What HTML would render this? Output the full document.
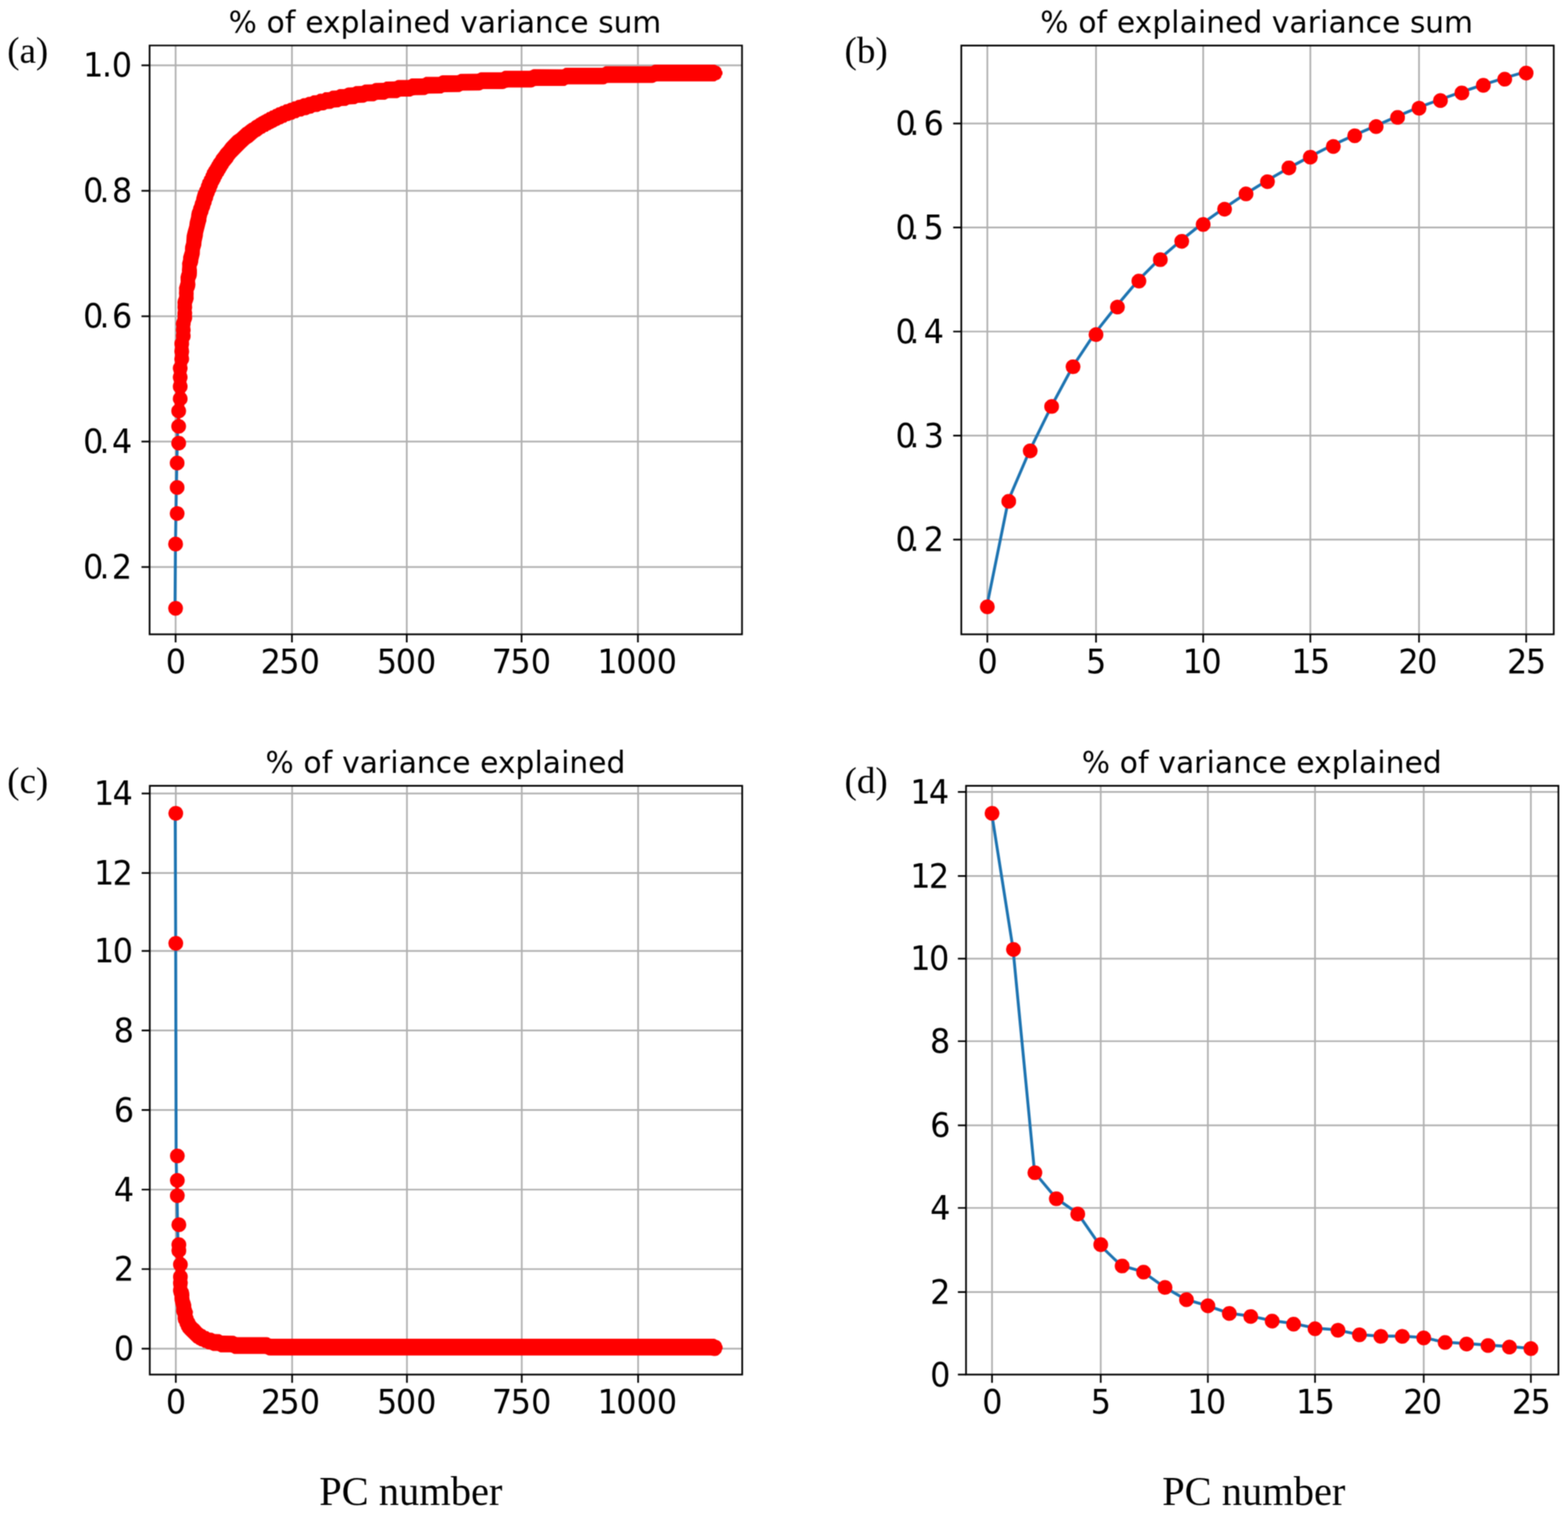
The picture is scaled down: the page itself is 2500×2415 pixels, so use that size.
<!DOCTYPE html>
<html lang="en">
<head>
<meta charset="utf-8">
<title>PCA explained variance</title>
<style>
html,body{margin:0;padding:0;background:#fff;}
body{width:2500px;height:2415px;overflow:hidden;}
svg{display:block;}
</style>
</head>
<body>
<svg xmlns="http://www.w3.org/2000/svg" width="2500" height="2415" viewBox="0 0 2500 2415">
<defs><filter id="soft2" filterUnits="userSpaceOnUse" x="0" y="0" width="2500" height="2415" color-interpolation-filters="sRGB"><feGaussianBlur stdDeviation="0"/></filter><filter id="soft3" filterUnits="userSpaceOnUse" x="0" y="0" width="2500" height="2415" color-interpolation-filters="sRGB"><feGaussianBlur stdDeviation="0"/></filter></defs>
<defs><filter id="soft" filterUnits="userSpaceOnUse" x="0" y="0" width="2500" height="2415" color-interpolation-filters="sRGB"><feConvolveMatrix order="5" kernelMatrix="0.00048 0.00501 0.01095 0.00501 0.00048 0.00501 0.05222 0.11405 0.05222 0.00501 0.01095 0.11405 0.24912 0.11405 0.01095 0.00501 0.05222 0.11405 0.05222 0.00501 0.00048 0.00501 0.01095 0.00501 0.00048" edgeMode="duplicate" preserveAlpha="true"/></filter></defs>
<g filter="url(#soft)">
<rect width="2500" height="2415" fill="#fff"/>
<g id="panel-a">
<g transform="matrix(2.4407 0 0 2.438 83.52 -75)">
<path d="M80.5 60.5V445.5M156.5 60.5V445.5M231.5 60.5V445.5M306.5 60.5V445.5M382.5 60.5V445.5M63.5 73.5H450.5M63.5 155.5H450.5M63.5 237.5H450.5M63.5 319.5H450.5M63.5 401.5H450.5" stroke="#b0b0b0" stroke-width="1.111" fill="none"/>
<polyline points="80.11,427.5 80.42,385.66 80.72,365.84 81.02,348.57 81.32,332.76 81.62,320.03 81.92,309.35 82.22,299.28 82.53,290.72 82.83,283.39 83.13,276.68 83.43,270.7 83.73,265.01 84.03,259.77 84.34,254.82 84.64,250.31 84.94,245.97 85.24,242.1 85.54,238.38 85.84,234.66 86.15,231.08 86.45,227.96 86.75,224.97 87.05,222.14 87.35,219.44 87.65,216.94 87.96,214.52 88.26,212.18 88.56,209.9 88.86,207.69 89.16,205.55 89.46,203.46 89.76,201.42 90.07,199.44 90.37,197.51 90.67,195.62 90.97,193.78 91.27,191.98 91.57,190.22 91.88,188.5 92.18,186.81 92.48,185.18 92.78,183.61 93.08,182.09 93.38,180.62 93.69,179.19 93.99,177.81 94.29,176.47 94.59,175.17 94.89,173.91 95.19,172.68 95.5,171.49 95.8,170.32 96.1,169.2 96.4,168.1 96.7,167.02 97,165.98 97.31,164.96 97.61,163.97 97.91,163 98.21,162.05 98.51,161.13 98.81,160.23 99.11,159.34 99.42,158.48 99.72,157.63 100.02,156.81 100.32,156 100.62,155.21 100.92,154.43 101.23,153.67 101.53,152.93 101.83,152.2 102.13,151.48 102.43,150.78 102.73,150.1 103.04,149.42 103.34,148.76 103.64,148.11 103.94,147.48 104.24,146.85 104.54,146.24 104.85,145.63 105.15,145.04 105.45,144.46 105.75,143.89 106.05,143.33 106.35,142.77 106.65,142.23 106.96,141.69 107.26,141.17 107.56,140.65 107.86,140.14 108.16,139.64 108.46,139.14 108.77,138.66 109.07,138.18 109.37,137.71 109.67,137.24 109.97,136.79 110.27,136.33 110.58,135.89 110.88,135.45 111.18,135.02 111.48,134.59 111.78,134.17 112.08,133.76 112.39,133.35 112.69,132.95 112.99,132.55 113.29,132.16 113.59,131.77 113.89,131.39 114.19,131.01 114.5,130.64 114.8,130.27 115.1,129.91 115.4,129.55 115.7,129.19 116,128.84 116.31,128.5 116.61,128.16 116.91,127.82 117.21,127.49 117.51,127.16 117.81,126.83 118.12,126.51 118.42,126.19 118.72,125.88 119.02,125.56 119.32,125.26 119.62,124.95 119.93,124.65 120.23,124.35 120.53,124.06 120.83,123.77 121.13,123.48 121.43,123.2 121.73,122.91 122.04,122.64 122.34,122.36 122.64,122.09 122.94,121.82 123.24,121.55 123.54,121.28 123.85,121.02 124.15,120.76 124.45,120.5 124.75,120.25 125.05,120 125.35,119.75 125.66,119.5 125.96,119.26 126.26,119.01 126.56,118.77 126.86,118.54 127.16,118.3 127.47,118.07 127.77,117.84 128.07,117.61 128.37,117.38 128.67,117.15 128.97,116.93 129.27,116.71 129.58,116.49 129.88,116.27 130.18,116.06 130.48,115.84 130.78,115.63 131.08,115.42 131.39,115.22 131.69,115.01 131.99,114.8 132.29,114.6 132.59,114.4 132.89,114.2 133.2,114 133.5,113.81 133.8,113.61 134.1,113.42 134.4,113.23 134.7,113.04 135.01,112.85 135.31,112.67 135.61,112.48 135.91,112.3 136.21,112.11 136.51,111.93 136.82,111.75 137.12,111.58 137.42,111.4 137.72,111.22 138.02,111.05 138.32,110.88 138.62,110.7 138.93,110.53 139.23,110.37 139.53,110.2 139.83,110.03 140.13,109.87 140.43,109.7 140.74,109.54 141.04,109.38 141.34,109.22 141.64,109.06 141.94,108.9 142.24,108.75 142.55,108.59 142.85,108.44 143.15,108.29 143.45,108.14 143.75,107.99 144.05,107.84 144.36,107.69 144.66,107.55 144.96,107.4 145.26,107.26 145.56,107.11 145.86,106.97 146.16,106.83 146.47,106.69 146.77,106.56 147.07,106.42 147.37,106.28 147.67,106.15 147.97,106.02 148.28,105.88 148.58,105.75 148.88,105.62 149.18,105.49 149.48,105.36 149.78,105.23 150.09,105.11 150.39,104.98 150.69,104.86 150.99,104.73 151.29,104.61 151.59,104.49 151.9,104.37 152.2,104.24 152.5,104.13 152.8,104.01 153.1,103.89 153.4,103.77 153.7,103.66 154.01,103.54 154.31,103.43 154.61,103.31 154.91,103.2 155.21,103.09 155.51,102.97 155.82,102.86 156.12,102.75 156.42,102.65 156.72,102.54 157.02,102.43 157.32,102.32 157.63,102.22 157.93,102.11 158.23,102.01 158.53,101.9 158.83,101.8 159.13,101.7 159.44,101.59 159.74,101.49 160.04,101.39 160.34,101.29 160.64,101.19 160.94,101.09 161.24,100.99 161.55,100.9 161.85,100.8 162.15,100.7 162.45,100.61 162.75,100.51 163.05,100.42 163.36,100.32 163.66,100.23 163.96,100.14 164.26,100.05 164.56,99.96 164.86,99.86 165.17,99.77 165.47,99.68 165.77,99.59 166.07,99.51 166.37,99.42 166.67,99.33 166.98,99.24 167.28,99.16 167.58,99.07 167.88,98.98 168.18,98.9 168.48,98.81 168.79,98.73 169.09,98.65 169.39,98.56 169.69,98.48 169.99,98.4 170.29,98.32 170.59,98.24 170.9,98.15 171.2,98.07 171.5,97.99 171.8,97.92 172.1,97.84 172.4,97.76 172.71,97.68 173.01,97.6 173.31,97.52 173.61,97.45 173.91,97.37 174.21,97.3 174.52,97.22 174.82,97.15 175.12,97.07 175.42,97 175.72,96.92 176.02,96.85 176.33,96.78 176.63,96.7 176.93,96.63 177.23,96.56 177.53,96.49 177.83,96.42 178.13,96.35 178.44,96.28 178.74,96.21 179.04,96.14 179.34,96.07 179.64,96 179.94,95.93 180.25,95.86 180.55,95.79 180.85,95.73 181.15,95.66 181.45,95.59 181.75,95.53 182.06,95.46 182.36,95.39 182.66,95.33 182.96,95.26 183.26,95.2 183.56,95.13 183.87,95.07 184.17,95.01 184.47,94.94 184.77,94.88 185.07,94.82 185.37,94.75 185.67,94.69 185.98,94.63 186.28,94.57 186.58,94.51 186.88,94.45 187.18,94.39 187.48,94.32 187.79,94.26 188.09,94.2 188.39,94.15 188.69,94.09 188.99,94.03 189.29,93.97 189.6,93.91 189.9,93.85 190.2,93.79 190.5,93.74 190.8,93.68 191.1,93.62 191.41,93.56 191.71,93.51 192.01,93.45 192.31,93.39 192.61,93.34 192.91,93.28 193.21,93.23 193.52,93.17 193.82,93.12 194.12,93.06 194.42,93.01 194.72,92.95 195.02,92.9 195.33,92.85 195.63,92.79 195.93,92.74 196.23,92.69 196.53,92.63 196.83,92.58 197.14,92.53 197.44,92.48 197.74,92.43 198.04,92.37 198.34,92.32 198.64,92.27 198.95,92.22 199.25,92.17 199.55,92.12 199.85,92.07 200.15,92.02 200.45,91.97 200.75,91.92 201.06,91.87 201.36,91.82 201.66,91.77 201.96,91.72 202.26,91.67 202.56,91.62 202.87,91.58 203.17,91.53 203.47,91.48 203.77,91.43 204.07,91.38 204.37,91.34 204.68,91.29 204.98,91.24 205.28,91.2 205.58,91.15 205.88,91.1 206.18,91.06 206.49,91.01 206.79,90.97 207.09,90.92 207.39,90.87 207.69,90.83 207.99,90.78 208.3,90.74 208.6,90.69 208.9,90.65 209.2,90.6 209.5,90.56 209.8,90.52 210.1,90.47 210.41,90.43 210.71,90.39 211.01,90.34 211.31,90.3 211.61,90.26 211.91,90.21 212.22,90.17 212.52,90.13 212.82,90.09 213.12,90.04 213.42,90 213.72,89.96 214.03,89.92 214.33,89.88 214.63,89.83 214.93,89.79 215.23,89.75 215.53,89.71 215.84,89.67 216.14,89.63 216.44,89.59 216.74,89.55 217.04,89.51 217.34,89.47 217.64,89.43 217.95,89.39 218.25,89.35 218.55,89.31 218.85,89.27 219.15,89.23 219.45,89.19 219.76,89.15 220.06,89.11 220.36,89.07 220.66,89.04 220.96,89 221.26,88.96 221.57,88.92 221.87,88.88 222.17,88.85 222.47,88.81 222.77,88.77 223.07,88.73 223.38,88.7 223.68,88.66 223.98,88.62 224.28,88.58 224.58,88.55 224.88,88.51 225.18,88.47 225.49,88.44 225.79,88.4 226.09,88.37 226.39,88.33 226.69,88.29 226.99,88.26 227.3,88.22 227.6,88.19 227.9,88.15 228.2,88.12 228.5,88.08 228.8,88.05 229.11,88.01 229.41,87.98 229.71,87.94 230.01,87.91 230.31,87.87 230.61,87.84 230.92,87.8 231.22,87.77 231.52,87.74 231.82,87.7 232.12,87.67 232.42,87.63 232.72,87.6 233.03,87.57 233.33,87.53 233.63,87.5 233.93,87.47 234.23,87.43 234.53,87.4 234.84,87.37 235.14,87.34 235.44,87.3 235.74,87.27 236.04,87.24 236.34,87.21 236.65,87.17 236.95,87.14 237.25,87.11 237.55,87.08 237.85,87.05 238.15,87.02 238.46,86.98 238.76,86.95 239.06,86.92 239.36,86.89 239.66,86.86 239.96,86.83 240.27,86.8 240.57,86.77 240.87,86.74 241.17,86.7 241.47,86.67 241.77,86.64 242.07,86.61 242.38,86.58 242.68,86.55 242.98,86.52 243.28,86.49 243.58,86.46 243.88,86.43 244.19,86.4 244.49,86.37 244.79,86.34 245.09,86.31 245.39,86.29 245.69,86.26 246,86.23 246.3,86.2 246.6,86.17 246.9,86.14 247.2,86.11 247.5,86.08 247.81,86.05 248.11,86.02 248.41,86 248.71,85.97 249.01,85.94 249.31,85.91 249.61,85.88 249.92,85.86 250.22,85.83 250.52,85.8 250.82,85.77 251.12,85.74 251.42,85.72 251.73,85.69 252.03,85.66 252.33,85.63 252.63,85.61 252.93,85.58 253.23,85.55 253.54,85.52 253.84,85.5 254.14,85.47 254.44,85.44 254.74,85.42 255.04,85.39 255.35,85.36 255.65,85.34 255.95,85.31 256.25,85.28 256.55,85.26 256.85,85.23 257.15,85.21 257.46,85.18 257.76,85.15 258.06,85.13 258.36,85.1 258.66,85.08 258.96,85.05 259.27,85.02 259.57,85 259.87,84.97 260.17,84.95 260.47,84.92 260.77,84.9 261.08,84.87 261.38,84.85 261.68,84.82 261.98,84.8 262.28,84.77 262.58,84.75 262.89,84.72 263.19,84.7 263.49,84.67 263.79,84.65 264.09,84.62 264.39,84.6 264.69,84.58 265,84.55 265.3,84.53 265.6,84.5 265.9,84.48 266.2,84.46 266.5,84.43 266.81,84.41 267.11,84.38 267.41,84.36 267.71,84.34 268.01,84.31 268.31,84.29 268.62,84.27 268.92,84.24 269.22,84.22 269.52,84.2 269.82,84.18 270.12,84.15 270.43,84.13 270.73,84.11 271.03,84.08 271.33,84.06 271.63,84.04 271.93,84.02 272.23,83.99 272.54,83.97 272.84,83.95 273.14,83.93 273.44,83.91 273.74,83.88 274.04,83.86 274.35,83.84 274.65,83.82 274.95,83.8 275.25,83.77 275.55,83.75 275.85,83.73 276.16,83.71 276.46,83.69 276.76,83.67 277.06,83.65 277.36,83.62 277.66,83.6 277.97,83.58 278.27,83.56 278.57,83.54 278.87,83.52 279.17,83.5 279.47,83.48 279.78,83.46 280.08,83.44 280.38,83.41 280.68,83.39 280.98,83.37 281.28,83.35 281.58,83.33 281.89,83.31 282.19,83.29 282.49,83.27 282.79,83.25 283.09,83.23 283.39,83.21 283.7,83.19 284,83.17 284.3,83.15 284.6,83.13 284.9,83.11 285.2,83.09 285.51,83.07 285.81,83.05 286.11,83.03 286.41,83.02 286.71,83 287.01,82.98 287.32,82.96 287.62,82.94 287.92,82.92 288.22,82.9 288.52,82.88 288.82,82.86 289.12,82.84 289.43,82.82 289.73,82.8 290.03,82.79 290.33,82.77 290.63,82.75 290.93,82.73 291.24,82.71 291.54,82.69 291.84,82.67 292.14,82.66 292.44,82.64 292.74,82.62 293.05,82.6 293.35,82.58 293.65,82.57 293.95,82.55 294.25,82.53 294.55,82.51 294.86,82.49 295.16,82.48 295.46,82.46 295.76,82.44 296.06,82.42 296.36,82.4 296.66,82.39 296.97,82.37 297.27,82.35 297.57,82.33 297.87,82.32 298.17,82.3 298.47,82.28 298.78,82.26 299.08,82.25 299.38,82.23 299.68,82.21 299.98,82.2 300.28,82.18 300.59,82.16 300.89,82.14 301.19,82.13 301.49,82.11 301.79,82.09 302.09,82.08 302.4,82.06 302.7,82.04 303,82.03 303.3,82.01 303.6,81.99 303.9,81.98 304.2,81.96 304.51,81.94 304.81,81.93 305.11,81.91 305.41,81.89 305.71,81.88 306.01,81.86 306.32,81.85 306.62,81.83 306.92,81.81 307.22,81.8 307.52,81.78 307.82,81.77 308.13,81.75 308.43,81.73 308.73,81.72 309.03,81.7 309.33,81.69 309.63,81.67 309.94,81.66 310.24,81.64 310.54,81.62 310.84,81.61 311.14,81.59 311.44,81.58 311.75,81.56 312.05,81.55 312.35,81.53 312.65,81.52 312.95,81.5 313.25,81.49 313.55,81.47 313.86,81.46 314.16,81.44 314.46,81.43 314.76,81.41 315.06,81.4 315.36,81.38 315.67,81.37 315.97,81.35 316.27,81.34 316.57,81.32 316.87,81.31 317.17,81.29 317.48,81.28 317.78,81.26 318.08,81.25 318.38,81.23 318.68,81.22 318.98,81.2 319.29,81.19 319.59,81.17 319.89,81.16 320.19,81.15 320.49,81.13 320.79,81.12 321.09,81.1 321.4,81.09 321.7,81.07 322,81.06 322.3,81.05 322.6,81.03 322.9,81.02 323.21,81 323.51,80.99 323.81,80.98 324.11,80.96 324.41,80.95 324.71,80.93 325.02,80.92 325.32,80.91 325.62,80.89 325.92,80.88 326.22,80.87 326.52,80.85 326.83,80.84 327.13,80.82 327.43,80.81 327.73,80.8 328.03,80.78 328.33,80.77 328.63,80.76 328.94,80.74 329.24,80.73 329.54,80.72 329.84,80.7 330.14,80.69 330.44,80.68 330.75,80.66 331.05,80.65 331.35,80.64 331.65,80.62 331.95,80.61 332.25,80.6 332.56,80.59 332.86,80.57 333.16,80.56 333.46,80.55 333.76,80.53 334.06,80.52 334.37,80.51 334.67,80.5 334.97,80.48 335.27,80.47 335.57,80.46 335.87,80.44 336.17,80.43 336.48,80.42 336.78,80.41 337.08,80.39 337.38,80.38 337.68,80.37 337.98,80.36 338.29,80.34 338.59,80.33 338.89,80.32 339.19,80.31 339.49,80.29 339.79,80.28 340.1,80.27 340.4,80.26 340.7,80.25 341,80.23 341.3,80.22 341.6,80.21 341.91,80.2 342.21,80.19 342.51,80.17 342.81,80.16 343.11,80.15 343.41,80.14 343.71,80.13 344.02,80.11 344.32,80.1 344.62,80.09 344.92,80.08 345.22,80.07 345.52,80.05 345.83,80.04 346.13,80.03 346.43,80.02 346.73,80.01 347.03,80 347.33,79.98 347.64,79.97 347.94,79.96 348.24,79.95 348.54,79.94 348.84,79.93 349.14,79.92 349.45,79.9 349.75,79.89 350.05,79.88 350.35,79.87 350.65,79.86 350.95,79.85 351.26,79.84 351.56,79.82 351.86,79.81 352.16,79.8 352.46,79.79 352.76,79.78 353.06,79.77 353.37,79.76 353.67,79.75 353.97,79.74 354.27,79.72 354.57,79.71 354.87,79.7 355.18,79.69 355.48,79.68 355.78,79.67 356.08,79.66 356.38,79.65 356.68,79.64 356.99,79.63 357.29,79.62 357.59,79.6 357.89,79.59 358.19,79.58 358.49,79.57 358.8,79.56 359.1,79.55 359.4,79.54 359.7,79.53 360,79.52 360.3,79.51 360.6,79.5 360.91,79.49 361.21,79.48 361.51,79.47 361.81,79.46 362.11,79.45 362.41,79.43 362.72,79.42 363.02,79.41 363.32,79.4 363.62,79.39 363.92,79.38 364.22,79.37 364.53,79.36 364.83,79.35 365.13,79.34 365.43,79.33 365.73,79.32 366.03,79.31 366.34,79.3 366.64,79.29 366.94,79.28 367.24,79.27 367.54,79.26 367.84,79.25 368.14,79.24 368.45,79.23 368.75,79.22 369.05,79.21 369.35,79.2 369.65,79.19 369.95,79.18 370.26,79.17 370.56,79.16 370.86,79.15 371.16,79.14 371.46,79.13 371.76,79.12 372.07,79.11 372.37,79.1 372.67,79.09 372.97,79.08 373.27,79.07 373.57,79.06 373.88,79.06 374.18,79.05 374.48,79.04 374.78,79.03 375.08,79.02 375.38,79.01 375.68,79 375.99,78.99 376.29,78.98 376.59,78.97 376.89,78.96 377.19,78.95 377.49,78.94 377.8,78.93 378.1,78.92 378.4,78.91 378.7,78.9 379,78.89 379.3,78.89 379.61,78.88 379.91,78.87 380.21,78.86 380.51,78.85 380.81,78.84 381.11,78.83 381.42,78.82 381.72,78.81 382.02,78.8 382.32,78.79 382.62,78.78 382.92,78.78 383.23,78.77 383.53,78.76 383.83,78.75 384.13,78.74 384.43,78.73 384.73,78.72 385.03,78.71 385.34,78.7 385.64,78.69 385.94,78.69 386.24,78.68 386.54,78.67 386.84,78.66 387.15,78.65 387.45,78.64 387.75,78.63 388.05,78.62 388.35,78.62 388.65,78.61 388.96,78.6 389.26,78.59 389.56,78.58 389.86,78.57 390.16,78.56 390.46,78.55 390.77,78.55 391.07,78.54 391.37,78.53 391.67,78.52 391.97,78.51 392.27,78.5 392.57,78.49 392.88,78.49 393.18,78.48 393.48,78.47 393.78,78.46 394.08,78.45 394.38,78.44 394.69,78.44 394.99,78.43 395.29,78.42 395.59,78.41 395.89,78.4 396.19,78.39 396.5,78.39 396.8,78.38 397.1,78.37 397.4,78.36 397.7,78.35 398,78.34 398.31,78.34 398.61,78.33 398.91,78.32 399.21,78.31 399.51,78.3 399.81,78.3 400.11,78.29 400.42,78.28 400.72,78.27 401.02,78.26 401.32,78.26 401.62,78.25 401.92,78.24 402.23,78.23 402.53,78.22 402.83,78.22 403.13,78.21 403.43,78.2 403.73,78.19 404.04,78.18 404.34,78.18 404.64,78.17 404.94,78.16 405.24,78.15 405.54,78.14 405.85,78.14 406.15,78.13 406.45,78.12 406.75,78.11 407.05,78.11 407.35,78.1 407.65,78.09 407.96,78.08 408.26,78.07 408.56,78.07 408.86,78.06 409.16,78.05 409.46,78.04 409.77,78.04 410.07,78.03 410.37,78.02 410.67,78.01 410.97,78.01 411.27,78 411.58,77.99 411.88,77.98 412.18,77.98 412.48,77.97 412.78,77.96 413.08,77.95 413.39,77.95 413.69,77.94 413.99,77.93 414.29,77.92 414.59,77.92 414.89,77.91 415.19,77.9 415.5,77.89 415.8,77.89 416.1,77.88 416.4,77.87 416.7,77.86 417,77.86 417.31,77.85 417.61,77.84 417.91,77.83 418.21,77.83 418.51,77.82 418.81,77.81 419.12,77.81 419.42,77.8 419.72,77.79 420.02,77.78 420.32,77.78 420.62,77.77 420.93,77.76 421.23,77.76 421.53,77.75 421.83,77.74 422.13,77.73 422.43,77.73 422.74,77.72 423.04,77.71 423.34,77.71 423.64,77.7 423.94,77.69 424.24,77.68 424.54,77.68 424.85,77.67 425.15,77.66 425.45,77.66 425.75,77.65 426.05,77.64 426.35,77.64 426.66,77.63 426.96,77.62 427.26,77.62 427.56,77.61 427.86,77.6 428.16,77.59 428.47,77.59 428.77,77.58 429.07,77.57 429.37,77.57 429.67,77.56 429.97,77.55 430.28,77.55 430.58,77.54 430.88,77.53 431.18,77.53 431.48,77.52 431.78,77.51 432.08,77.51 432.39,77.5" stroke="#1c73b1" stroke-width="1.9" fill="none" stroke-linejoin="round"/>
</g>
<path d="M288.5 690.7 286.5 691.1 283.5 691.2 280.5 690.6 278.5 689.5 275.2 686.5 274.1 684.5 273.2 681.5 273.1 678.5 273.7 675.5 275.3 672.5 278.5 669.7 281.5 668.5 282.9 667.5 282 666.5 278.5 665.1 275.5 662.4 273.8 659.5 273.2 656.5 273.2 653.5 273.9 650.5 275.1 648.5 278.1 645.5 278.5 644.5 278.4 643.5 276.1 639.5 275.6 637.5 275.6 634.5 276.2 631.5 277.2 629.5 279.8 626.5 279.8 625.5 277.3 622.5 276.2 620.5 275.6 617.5 275.6 614.5 276.4 611.5 277.3 609.5 277.4 608.5 275.7 603.5 275.5 600.5 276.2 597.5 277.4 594.5 275.6 588.5 275.6 585.5 276.3 582.5 278.5 578.9 278.9 577.5 278 573.5 278 571.5 278.9 567.5 279 565.5 278.1 561.5 278 559.5 279 553.5 278.1 549.5 278.1 546.5 278.7 543.5 280.5 540.5 280.8 539.5 280.4 534.5 281.2 530.5 280.5 527.5 280.4 525.5 281.2 520.5 280.4 517.5 280.4 515.5 281.3 511.5 282.7 508.5 283.1 505.5 282.9 498.5 283.6 494.5 282.9 490.5 283.2 485.5 282.9 481.5 283.7 477.5 285.3 473.5 285.7 471.5 285.3 467.5 285.6 463.5 285.4 458.5 288 449.5 287.8 441.5 289 436.5 290.1 433.5 290 430.5 290.5 424.5 290.3 419.5 291.9 413.5 292 409.5 292.5 407.5 295 399.5 294.9 396.5 295.2 392.5 296.9 386.5 297.6 375.5 299.5 367.5 301.8 359.5 302.5 353.5 304.6 345.5 305 341.5 306 336.5 307.8 332.5 308.3 329.5 310.2 325.5 311 321.5 312.5 318.5 313.2 314.5 315.8 305.5 316.2 304.5 317.2 303.5 318.4 299.5 319.3 298.5 320.3 296.5 320.5 294.5 321.2 292.5 322 291.5 322.9 287.5 325.2 284.5 325.4 282.5 327.7 279.5 327.9 277.5 329.7 274.5 330 272.5 330.5 271.6 332.1 269.5 332.9 267.5 335.2 264.5 335.5 263.5 336.9 261.5 338.3 258.5 339.3 257.5 340.1 255.5 343.9 250.5 344.6 248.5 349.4 242.5 352.1 238.5 356.8 233.5 360.4 228.5 372 216.5 377.5 212.8 387.5 203.5 389.5 202.5 394.5 198.4 396.5 197.3 397.5 196.3 399.5 195.7 402.5 192.9 405.5 191.2 406.5 190.9 409.5 188.4 411.5 187.8 412.5 186.8 416.5 184.8 417.5 184 418.9 183.5 422.5 181.2 423.5 181.2 426.5 178.8 428.8 178.5 431.5 176.3 433.5 176.2 436.5 173.9 438.9 173.5 441.5 171.5 444.5 170.9 448.5 168.8 450.5 168.8 453.5 166.6 457.5 166.1 460.5 164.2 464.5 163.5 466.5 162.1 468.5 161.5 470.5 161.4 473.5 159.5 478.5 158.8 481.5 157.1 483.5 156.6 486.5 156.4 490.5 154.4 494.5 154.2 498.5 152 504.5 151.7 506.5 150.7 507.5 149.8 510.5 149.3 513.5 149.4 514.5 149.1 517.5 147.1 523.5 146.9 525.5 146.4 527.5 145.1 529.5 144.6 536.5 144.3 539.5 142.4 541.5 142.1 548.5 141.9 550.5 141.2 551.5 140.5 554.5 139.6 562.5 139.3 566.5 137.3 576.5 137 580.5 135 581.5 134.8 592.5 134.6 594.5 133.9 595.5 133.1 598.5 132.3 610.5 132.1 611.5 131.9 614.5 130.2 615.5 130 628.5 129.8 630.5 129.3 632.5 128 634.5 127.5 650.5 127.4 652.5 126.9 654.5 125.6 656.5 125 672.5 125 674.5 124.7 678.5 122.6 699.5 122.5 701.5 121.6 702.5 120.7 705.5 120.1 728.5 120.1 730.5 119.6 732.5 118.3 734.5 117.7 760.5 117.6 762.5 117.1 764.5 115.8 766.5 115.3 799.5 115.2 803.5 113.1 805.5 112.8 843.5 112.8 845.5 112.5 849.5 110.4 851.5 110.3 896.5 110.4 898.5 109.8 900.5 108.3 903.5 107.9 960.5 107.9 962.5 107.1 964.5 105.7 966.5 105.4 1038.5 105.5 1042.5 103.2 1044.5 103 1138.5 103 1140.5 103.3 1143.5 105.1 1146.5 106.1 1149.8 109.5 1150.1 111.5 1151.9 114.5 1152 117.5 1151.8 118.5 1150 121.5 1149.6 123.5 1146.5 126.6 1142.5 128.1 1140.5 129.4 1138.5 129.8 1047.5 129.7 1045.5 130.2 1043.5 131.6 1040.5 132.2 969.5 132.2 967.5 132.6 965.5 134 962.5 134.6 905.5 134.6 903.5 135.3 901.5 136.7 899.5 137.1 854.5 137 852.5 137.4 850.5 138.7 847.5 139.4 810.5 139.5 807.5 139.9 804.5 141.6 801.5 141.9 771.5 141.9 769.5 142.3 767.5 143.5 764.5 144.3 739.5 144.4 737.5 144.6 733.5 146.5 732.5 146.7 709.5 146.9 707.5 147.2 704.5 148.9 703.5 149.1 683.5 149.2 681.5 149.7 679.5 150.9 677.5 151.5 661.5 151.7 658.5 152.2 655.5 153.8 654.5 154 639.5 154.1 637.5 154.6 635.5 155.8 633.5 156.4 619.5 156.6 617.5 157.2 615.5 158.5 613.5 159 602.5 159 600.5 159.6 598.5 160.8 596.5 161.4 585.5 161.4 581.5 163.5 579.5 163.8 570.5 163.9 567.5 165.8 566.5 166 556.5 166.6 552.5 168.7 544.5 169 540.5 171 532.5 171.4 528.5 173.5 521.5 173.8 518.5 175.6 515.5 176.1 512.5 176 510.5 176.8 508.5 178.1 506.5 178.5 502.5 178.5 500.5 179.3 498.5 180.7 493.5 181.4 491.5 182.7 489.5 183.4 485.5 183.7 482.5 185.5 481.5 185.8 478.5 185.8 477.5 186 474.5 188.2 471.4 188.5 470.5 188.8 469.5 189.7 467.5 190.7 464.5 191 462.5 192.3 460.5 193.1 458.5 193.1 455.5 195.4 453.5 195.6 450.5 197.5 446.5 198.8 445.5 199.8 441.5 201.3 440.5 202.3 436.5 203.9 435.5 204.8 432.5 206.1 430.6 207.5 429.5 207.6 428.5 208.1 426.5 209.9 424.5 210.1 423.8 210.5 421.5 212.6 419.5 213.1 413.8 217.5 412.5 217.8 409.5 219.9 401.5 227.1 400.5 227.4 397.5 229.5 390.5 236 375.2 251.5 372.1 255.5 371.2 257.5 364.6 265.5 363.8 267.5 362.1 269.5 361.2 271.5 359.8 273.5 359.5 274.5 357.4 277.5 356.7 279.5 354.5 282.1 353.7 284.5 352.8 285.5 351.8 287.5 351.5 289 350.4 290.5 349 293.5 347.6 295.5 346.8 298.5 344.9 302.5 344.2 305.5 342.7 307.5 341.9 310.5 340 314.5 339.3 318.5 337.7 321.5 337 325.5 335.5 328.5 334.6 332.5 332.7 336.5 331.9 340.5 330.4 343.5 329.2 348.5 329 352.5 328 355.5 323.7 372.5 323.4 376.5 321.4 385.5 320.9 391.5 318.8 398.5 318.5 405.5 316.3 414.5 315.9 418.5 314.8 422.5 313.7 424.5 313.5 426.5 314 430.5 314 435.5 313.7 439.5 313 442.5 311.2 446.5 311 448.5 311.6 453.5 311.1 457.5 309.9 461.5 308.8 463.5 308.6 465.5 308.8 467.5 308.6 471.5 308.8 476.5 307.3 481.5 306.4 483.5 306 485.5 306.4 490.5 305.6 494.5 306.4 498.5 306.1 502.5 306.4 507.5 305.7 510.5 304.1 514.5 303.7 518.5 303.2 520.5 303.9 525.5 303.9 527.5 303.2 530.5 303.9 534.5 303.8 537.5 303.1 540.5 301.2 543.5 301.5 549.2 300.5 553.5 301.5 559.5 301.5 561.5 300.5 566.5 301.4 570.5 301.5 573.5 300.8 576.5 298.4 580.5 298.2 582.5 299 585.5 299 588.5 297.2 594.5 298.4 597.5 299 600.5 298.9 603.5 297.2 608.5 297.3 609.5 298.2 611.5 299 614.5 299 617.5 298.4 620.5 297.3 622.5 294.9 625.5 294.9 626.5 296.7 628.5 298.4 631.5 299 634.5 299 637.5 298.2 640.5 297 642.5 293.9 645.5 293.7 646.5 293.9 647.5 295.8 650.5 296.6 653.5 296.6 656.5 295.9 659.5 294.9 661.5 292.1 664.5 289.5 665.9 287.7 666.5 286.9 667.5 288.3 668.5 291.5 669.8 294.5 672.7 296 675.5 296.6 678.5 296.6 680.5 296 683.5 294.5 686.5 291.5 689.3 289.5 690.5ZM288.5 717.6 286.5 718 284.5 718.1 280.5 717.4 277.4 715.5 275.5 713.6 273.7 710.5 273.1 707.5 273.1 705.5 274.1 701.5 275.2 699.5 277.2 697.5 280.5 695.4 283.5 694.8 285.5 694.8 289.5 695.5 291.5 696.6 294.5 699.5 296 702.5 296.6 704.5 296.6 707.5 296 710.5 295 712.5 291.5 716.2ZM284.5 749.7 280.5 749.7 277.5 748.8 275.5 747.7 272.5 744.5 271.4 742.5 270.7 739.5 270.7 736.5 271.5 733.5 272.6 731.5 275.5 728.4 277.5 727.3 280.5 726.4 284.5 726.5 286.5 727 289.4 728.5 292.2 731.5 293.4 733.5 294.1 736.5 294.1 739.5 293.5 742.5 292.3 744.5 289.5 747.6 286.5 749.2ZM284.5 788.7 280.5 788.7 277.5 787.8 275.5 786.7 272.5 783.5 271.4 781.5 270.7 778.5 270.7 775.5 271.5 772.5 272.6 770.5 275.5 767.5 277.5 766.3 280.5 765.4 284.5 765.5 286.5 766 289.4 767.5 292.2 770.5 293.4 772.5 294.1 775.5 294.1 778.5 293.5 781.5 292.3 783.5 289.5 786.6 286.5 788.2ZM286.5 829.6 283.5 830.3 281.5 830.3 277.5 829.3 275.5 828.1 273.5 826.2 272.2 824.5 271.3 822.5 270.7 819.5 270.7 817.5 271.7 813.5 272.9 811.5 274.9 809.5 278.5 807.4 280.5 806.9 283.5 806.8 287.5 807.9 289.5 809.1 291.5 811 293.6 814.5 294.2 817.5 294.2 819.5 293.2 823.5 292 825.5 290.1 827.5ZM283.5 878.5 281.5 879 279.5 879 275.5 878.3 273.5 877.2 270.6 874.5 268.9 871.5 268.2 868.5 268.2 866.5 269.1 862.5 270.2 860.5 272.2 858.5 273.5 857.4 275.5 856.3 278.5 855.6 280.5 855.5 284.5 856.3 286.5 857.4 287.8 858.5 289.7 860.5 290.9 862.5 291.7 866.5 291.7 868.5 291.1 871.5 289.5 874.3 287.3 876.5 284.5 878.3ZM284.5 980.7 280.5 981.4 278.5 981.4 275.5 980.7 273.5 979.6 272.3 978.5 270.3 976.5 269.1 974.5 268.2 970.5 268.2 968.5 268.9 965.5 270.6 962.5 273.5 959.8 275.5 958.7 279.5 958 281.5 958 284.5 958.7 286.5 959.8 289.4 962.5 291.1 965.5 291.7 968.5 291.7 970.5 290.8 974.5 289.7 976.5 287.7 978.5Z" fill="#ff0000" fill-rule="evenodd"/>
<g transform="matrix(2.4407 0 0 2.438 83.52 -75)">
<path d="M80.5 445.5v5.3M156.5 445.5v5.3M231.5 445.5v5.3M306.5 445.5v5.3M382.5 445.5v5.3M63.5 73.5h-5.3M63.5 155.5h-5.3M63.5 237.5h-5.3M63.5 319.5h-5.3M63.5 401.5h-5.3" stroke="#000" stroke-width="1.111" fill="none"/>
<path d="M63.5 60.5H450.5V445.5H63.5Z" stroke="#000" stroke-width="1.111" fill="none" stroke-linejoin="miter"/>
<text id="t-a-0" transform="translate(73.625 471) scale(1 1.053)" x="0.43" font-family="'DejaVu Sans','Liberation Sans',sans-serif" font-size="20.8333">0</text>
<text id="t-a-1" transform="translate(135.5 471) scale(1 1.053)" x="0.54 12.74 26.04" font-family="'DejaVu Sans','Liberation Sans',sans-serif" font-size="20.8333">250</text>
<text id="t-a-2" transform="translate(211.375 471) scale(1 1.053)" x="0.53 12.93 26.14" font-family="'DejaVu Sans','Liberation Sans',sans-serif" font-size="20.8333">500</text>
<text id="t-a-3" transform="translate(286.25 471) scale(1 1.053)" x="0.78 12.98 26.28" font-family="'DejaVu Sans','Liberation Sans',sans-serif" font-size="20.8333">750</text>
<text id="t-a-4" transform="translate(355.688 471) scale(1 1.053)" x="0.32 12.66 25.84 39.06" font-family="'DejaVu Sans','Liberation Sans',sans-serif" font-size="20.8333">1000</text>
<text id="t-a-5" transform="translate(19.625 409) scale(1 1.053)" x="0.46 11.09 19.23" font-family="'DejaVu Sans','Liberation Sans',sans-serif" font-size="20.8333">0.2</text>
<text id="t-a-6" transform="translate(19.625 327) scale(1 1.053)" x="0.46 11.09 19.29" font-family="'DejaVu Sans','Liberation Sans',sans-serif" font-size="20.8333">0.4</text>
<text id="t-a-7" transform="translate(19.625 245) scale(1 1.053)" x="0.46 11.09 19.29" font-family="'DejaVu Sans','Liberation Sans',sans-serif" font-size="20.8333">0.6</text>
<text id="t-a-8" transform="translate(19.625 163) scale(1 1.053)" x="0.46 11.09 19.28" font-family="'DejaVu Sans','Liberation Sans',sans-serif" font-size="20.8333">0.8</text>
<text id="t-a-9" transform="translate(19.688 81) scale(1 1.053)" x="0.36 12.65 19.16" font-family="'DejaVu Sans','Liberation Sans',sans-serif" font-size="20.8333">1.0</text>
<text id="t-a-10" transform="translate(115 52) scale(1 1.015)" x="0.12 18.59 24.92 36.93 43.77 50.2 61.8 73.3 85.65 91.04 103.09 108.47 120.85 132.84 145.18 151.44 162.87 174.65 182.89 188.37 200.2 212.62 223.28 235.23 241.5 251.55 263.81" font-family="'DejaVu Sans','Liberation Sans',sans-serif" font-size="19.4444">% of explained variance sum</text>
</g>
</g>
<g id="panel-b">
<g transform="matrix(2.4407 0 0 2.438 1377.72 -74.9)">
<path d="M80.5 60.5V445.5M151.5 60.5V445.5M221.5 60.5V445.5M291.5 60.5V445.5M362.5 60.5V445.5M432.5 60.5V445.5M63.5 111.5H450.5M63.5 179.5H450.5M63.5 247.5H450.5M63.5 315.5H450.5M63.5 383.5H450.5" stroke="#b0b0b0" stroke-width="1.111" fill="none"/>
<polyline points="80.11,427.44 94.2,357.91 108.3,324.99 122.39,296.28 136.48,270.02 150.57,248.86 164.66,231.11 178.75,214.37 192.84,200.16 206.93,187.98 221.02,176.82 235.11,166.89 249.2,157.43 263.3,148.73 277.39,140.5 291.48,133.01 305.57,125.8 319.66,119.37 333.75,113.19 347.84,107.01 361.93,101.06 376.02,95.88 390.11,90.91 404.2,86.2 418.3,81.72 432.39,77.56" stroke="#1c73b1" stroke-width="1.9" fill="none" stroke-linejoin="round"/>
</g>
<path d="M2437.5 127.6 2434.5 128.2 2432.5 128.2 2428.5 127.3 2426.5 126.1 2423.8 123.5 2422.2 120.5 2421.5 117.5 2421.5 115.5 2422.6 111.5 2423.8 109.5 2425.8 107.5 2428.5 105.6 2432.5 104.8 2434.5 104.8 2437.5 105.4 2440.5 107.1 2442.5 109.1 2444.5 112.5 2444.9 114.5 2445 117.5 2444 121.5 2442.9 123.5 2440.9 125.5ZM2401.5 137.7 2397.5 137.9 2394.5 137.2 2392.5 136 2389.1 132.5 2388.1 130.5 2387.4 127.5 2387.4 124.5 2388.3 121.5 2389.4 119.5 2392.5 116.4 2394.5 115.3 2397.5 114.5 2400.5 114.5 2403.5 115.2 2405.5 116.2 2408.9 119.5 2410 121.5 2410.8 124.5 2410.9 127.5 2410.2 130.5 2408.5 133.5 2405.5 136.2 2403.5 137.3ZM2366.5 147.7 2363.5 147.7 2360.5 147 2358.5 145.9 2355 142.5 2354 140.5 2353.3 137.5 2353.3 134.5 2354 131.5 2355 129.5 2358.5 126 2360.5 125 2363.5 124.3 2366.5 124.3 2369.5 125 2371.5 126.1 2374.9 129.5 2376 131.5 2376.7 134.5 2376.7 137.5 2376 140.5 2374.9 142.5 2371.5 145.9 2369.5 147ZM2333.5 159.6 2329.5 159.9 2326.5 159.2 2323.6 157.5 2321.5 155.4 2319.7 152.5 2319.1 149.5 2319.1 147.5 2319.9 143.5 2321 141.5 2322.9 139.5 2324.5 138.1 2326.5 137.1 2329.5 136.4 2331.5 136.4 2335.5 137.3 2337.5 138.4 2338.6 139.5 2340.6 141.5 2341.7 143.5 2342.6 147.5 2342.6 149.5 2341.9 152.5 2340.8 154.5 2337.5 158 2335.5 159.1ZM2300.5 171.5 2298.5 172 2295.5 172.1 2292.5 171.5 2289.2 169.5 2287.2 167.5 2285.5 164.5 2284.9 161.5 2284.9 159.5 2285.8 155.5 2287 153.5 2288.9 151.5 2290.5 150.3 2292.5 149.3 2295.5 148.6 2297.5 148.6 2301.5 149.6 2303.5 150.7 2306.3 153.5 2307.8 156.5 2308.3 158.5 2308.4 161.5 2307.5 165 2306 167.5 2304.1 169.5ZM2266.5 183.7 2263.5 184.3 2261.5 184.3 2257.5 183.3 2255.5 182.1 2252.9 179.5 2251.3 176.5 2250.8 174.5 2250.7 171.5 2251.8 167.5 2253 165.5 2254.9 163.5 2258.5 161.4 2261.5 160.8 2263.5 160.8 2267.5 161.8 2269.5 163 2271.5 165 2273.6 168.5 2274.2 171.5 2274.2 173.5 2273.2 177.5 2272 179.5 2270.1 181.5ZM2230.5 198.7 2226.5 198.8 2223.5 198 2221.5 196.9 2218.3 193.5 2217.2 191.5 2216.5 188.5 2216.6 185.5 2217.4 182.5 2218.5 180.5 2221.5 177.5 2223.5 176.3 2226.5 175.5 2230.5 175.6 2232.5 176.1 2235.1 177.5 2238.1 180.5 2239.2 182.5 2240 185.5 2239.8 189.5 2239.4 191.5 2238.3 193.5 2235.5 196.6 2232.5 198.3ZM2195.5 213.6 2192.5 213.5 2189.5 212.8 2187.5 211.7 2184.3 208.5 2183.2 206.5 2182.4 203.5 2182.5 199.9 2183.1 197.5 2184.1 195.5 2187.5 192 2189.5 190.9 2192.5 190.1 2195.5 190.1 2198.5 190.8 2201.4 192.5 2204.1 195.5 2205.2 197.5 2205.8 200.5 2205.8 203.5 2205 206.5 2203.9 208.5 2200.5 211.8 2198.5 212.8ZM2163.5 227.7 2161.5 228.1 2159.5 228.2 2155.5 227.5 2153.5 226.3 2150.5 223.6 2148.8 220.5 2148.2 217.5 2148.2 215.5 2149.2 211.5 2150.3 209.5 2152.3 207.5 2155.5 205.4 2158.5 204.7 2160.5 204.7 2164.5 205.5 2166.5 206.6 2169.5 209.4 2171.1 212.5 2171.6 214.5 2171.7 217.5 2170.6 221.5 2169.5 223.5 2167.4 225.5 2164.5 227.4ZM2129.5 244.7 2127.5 245.2 2124.5 245.2 2121.3 244.5 2118.5 242.8 2116.5 240.8 2114.6 237.5 2114.2 235.5 2114.1 232.5 2115.1 228.5 2116.2 226.5 2118.2 224.5 2121.5 222.4 2124.5 221.8 2126.5 221.8 2130.5 222.6 2132.5 223.8 2135.3 226.5 2136.9 229.5 2137.5 231.9 2137.6 234.5 2136.5 238.5 2135.3 240.5 2132.5 243.2ZM2093.5 261.6 2090.5 262.3 2088.5 262.3 2084.5 261.5 2081.6 259.5 2079.6 257.5 2078.4 255.5 2077.4 251.5 2077.4 249.5 2078 246.5 2079.7 243.5 2082.5 240.8 2084.5 239.7 2088.5 238.9 2090.5 238.9 2093.5 239.5 2096.5 241.3 2098.5 243.3 2100.3 246.5 2100.9 249.5 2100.9 251.5 2099.9 255.5 2098.8 257.5 2096.8 259.5ZM2059.5 278.6 2055.5 279.4 2053.5 279.3 2050.5 278.6 2047.3 276.5 2045.3 274.5 2044.2 272.5 2043.3 268.5 2043.3 266.5 2043.9 263.5 2045.6 260.5 2048.5 257.8 2050.5 256.6 2054.5 255.9 2056.5 256 2059.5 256.6 2061.5 257.8 2064.5 260.5 2066.1 263.5 2066.8 266.5 2066.8 268.5 2065.8 272.5 2064.7 274.5 2062.7 276.5ZM2025.5 300.5 2021.5 301.3 2019.5 301.3 2016.5 300.6 2013.2 298.5 2011.2 296.5 2010.1 294.5 2009.1 290.5 2009.1 288.5 2009.7 285.5 2011.5 282.3 2013.5 280.4 2016.5 278.5 2019.5 277.9 2021.5 277.9 2025.5 278.7 2027.5 279.8 2030.3 282.5 2032 285.5 2032.6 288.5 2032.6 290.5 2031.6 294.5 2030.5 296.5 2027.5 299.3ZM1988.5 320.7 1985.5 320.8 1982.5 320.2 1979.5 318.5 1976.7 315.5 1975.6 313.5 1975 310.5 1975 307.5 1975.4 305.5 1976.8 302.5 1980.5 299 1982.5 298 1985.5 297.3 1988.5 297.4 1990.5 297.9 1993.5 299.4 1996.5 302.5 1997.6 304.5 1998.4 307.5 1998.4 310.5 1997.7 313.5 1996.6 315.5 1993.5 318.8 1991.5 319.9ZM1956.5 344.6 1953.5 345.2 1951.5 345.2 1947.5 344.2 1945.5 343 1943.5 341.1 1941.4 337.5 1940.8 334.5 1940.8 332.5 1941.7 328.5 1942.9 326.5 1944.9 324.5 1948.5 322.3 1951.5 321.7 1953.5 321.7 1957.5 322.7 1959.5 323.9 1961.5 325.9 1963.6 329.5 1964.2 332.5 1964.2 334.5 1963.2 338.5 1962 340.5 1960.1 342.5ZM1919.5 369.6 1916.5 369.5 1913.5 368.7 1911.5 367.5 1908.6 364.5 1907.4 362.5 1906.6 359.5 1906.6 356.5 1907.3 353.5 1908.3 351.5 1911.5 348.1 1913.5 347 1916.5 346.2 1919.5 346.1 1922.5 346.7 1925.5 348.4 1928.3 351.5 1929.4 353.5 1930 356.5 1930 359.5 1929.5 361.5 1928.1 364.5 1924.5 368 1922.5 368.9ZM1888.5 395.7 1885.5 396.4 1883.5 396.4 1879.5 395.6 1877.5 394.4 1874.5 391.5 1873.3 389.5 1872.4 385.5 1872.4 383.5 1873 380.5 1874.8 377.5 1877.5 374.9 1879.5 373.7 1883.5 373 1885.5 373 1888.5 373.6 1891.5 375.4 1893.5 377.4 1895.3 380.5 1895.9 383.5 1895.9 385.5 1895 389.5 1893.9 391.5 1891.9 393.5ZM1851.5 425.6 1848.5 425.6 1845.5 424.9 1843.5 423.9 1840.1 420.5 1839 418.5 1838.3 415.5 1838.5 411.5 1839 409.5 1840 407.5 1843.5 404 1845.5 402.9 1848.5 402.2 1851.5 402.2 1854.5 402.9 1856.5 404 1860 407.5 1861 409.5 1861.7 412.5 1861.7 415.5 1861 418.5 1859.9 420.5 1856.5 423.8 1854.5 424.9ZM1817.5 459.7 1814.5 459.8 1811.5 459.1 1808.7 457.5 1805.9 454.5 1804.8 452.5 1804.1 449.5 1804.1 446.5 1804.8 443.5 1805.9 441.5 1809.5 438 1811.5 437 1814.5 436.3 1817.5 436.4 1820.5 437.1 1822.5 438.2 1825.7 441.5 1826.8 443.5 1827.6 446.5 1827.6 449.5 1826.8 452.5 1825.8 454.5 1822.5 457.9 1820.5 459ZM1785.5 500.7 1783.5 501.1 1780.5 501.2 1777.3 500.5 1774.5 498.9 1772.5 497 1770.5 493.5 1769.9 490.5 1769.9 488.5 1770.9 484.5 1772.1 482.5 1774 480.5 1777.5 478.4 1780.5 477.8 1782.5 477.8 1786.5 478.7 1788.5 479.9 1791.2 482.5 1792.8 485.5 1793.4 488.5 1793.4 490.5 1792.4 494.5 1791.2 496.5 1788.5 499.1ZM1751.5 544.5 1748.5 545.1 1746.5 545.1 1742.5 544.1 1740.5 542.9 1738.5 541 1736.4 537.5 1735.7 534.5 1735.7 532.5 1736.7 528.5 1737.9 526.5 1740.5 523.9 1743.5 522.2 1746.5 521.6 1748.5 521.6 1752.5 522.7 1754.5 523.9 1757.1 526.5 1758.6 529.5 1759.1 531.5 1759.2 534.5 1758.5 537.7 1756.9 540.5 1755 542.5ZM1715.5 595.5 1711.5 596.3 1709.5 596.3 1706.5 595.6 1703.2 593.5 1701.2 591.5 1700.1 589.5 1699.1 585.5 1699.1 583.5 1699.7 580.5 1701.5 577.3 1703.4 575.5 1706.5 573.5 1709.5 572.9 1711.5 572.9 1715.5 573.6 1717.5 574.8 1720.4 577.5 1722 580.5 1722.6 583.5 1722.6 585.5 1721.6 589.5 1720.5 591.5 1717.5 594.4ZM1678.5 659.6 1674.5 659.5 1672.5 659.1 1669.7 657.5 1666.8 654.5 1665.7 652.5 1665 649.5 1665 646.5 1665.7 643.5 1666.8 641.5 1670.5 637.9 1672.5 636.9 1675.5 636.2 1678.5 636.3 1680.5 636.8 1683.5 638.2 1686.6 641.5 1687.7 643.5 1688.4 646.5 1688.4 649.5 1687.7 652.5 1686.6 654.5 1683.5 657.7 1681.5 658.8ZM1646.5 729.8 1643.5 730.4 1641.5 730.4 1638.5 729.8 1635.5 728.2 1632.9 725.5 1631.7 723.5 1630.8 719.5 1630.8 717.5 1631.4 714.5 1633.2 711.5 1635.1 709.5 1638.5 707.5 1641.5 707 1643.5 707 1647.5 707.9 1649.5 709.1 1651.5 711 1653.6 714.5 1654.3 717.5 1654.3 719.5 1653.4 723.5 1652.2 725.5 1649.5 728.2ZM1610.5 810.7 1606.5 810.8 1603.5 809.9 1601.5 808.8 1598.4 805.5 1597.3 803.5 1596.6 800.5 1596.7 797.5 1597.4 794.5 1598.6 792.5 1601.5 789.4 1603.5 788.3 1606.5 787.4 1610.5 787.5 1612.5 788 1615.2 789.5 1618.2 792.5 1619.3 794.5 1620 797.5 1619.9 801.5 1619.4 803.5 1618.3 805.5 1615.5 808.6 1612.5 810.2ZM1577.5 978.6 1575.5 979 1573.5 979.1 1569.5 978.3 1567.5 977.1 1564.8 974.5 1563.1 971.5 1562.4 968.5 1562.4 966.5 1563.4 962.5 1564.5 960.5 1567.5 957.6 1569.5 956.4 1573.5 955.6 1575.5 955.6 1578.5 956.3 1581.9 958.5 1583.9 960.5 1585 962.5 1585.9 966.5 1585.9 968.5 1585.3 971.5 1583.6 974.5 1581.6 976.5 1578.5 978.4Z" fill="#ff0000" fill-rule="evenodd"/>
<g transform="matrix(2.4407 0 0 2.438 1377.72 -74.9)">
<path d="M80.5 445.5v5.3M151.5 445.5v5.3M221.5 445.5v5.3M291.5 445.5v5.3M362.5 445.5v5.3M432.5 445.5v5.3M63.5 111.5h-5.3M63.5 179.5h-5.3M63.5 247.5h-5.3M63.5 315.5h-5.3M63.5 383.5h-5.3" stroke="#000" stroke-width="1.111" fill="none"/>
<path d="M63.5 60.5H450.5V445.5H63.5Z" stroke="#000" stroke-width="1.111" fill="none" stroke-linejoin="miter"/>
<text id="t-b-0" transform="translate(73.625 471) scale(1 1.053)" x="0.4" font-family="'DejaVu Sans','Liberation Sans',sans-serif" font-size="20.8333">0</text>
<text id="t-b-1" transform="translate(144.375 471) scale(1 1.053)" x="0.6" font-family="'DejaVu Sans','Liberation Sans',sans-serif" font-size="20.8333">5</text>
<text id="t-b-2" transform="translate(207.688 471) scale(1 1.053)" x="0.39 12.61" font-family="'DejaVu Sans','Liberation Sans',sans-serif" font-size="20.8333">10</text>
<text id="t-b-3" transform="translate(278.688 471) scale(1 1.053)" x="0.39 12.58" font-family="'DejaVu Sans','Liberation Sans',sans-serif" font-size="20.8333">15</text>
<text id="t-b-4" transform="translate(348.5 471) scale(1 1.053)" x="0.53 12.77" font-family="'DejaVu Sans','Liberation Sans',sans-serif" font-size="20.8333">20</text>
<text id="t-b-5" transform="translate(419.5 471) scale(1 1.053)" x="0.53 12.75" font-family="'DejaVu Sans','Liberation Sans',sans-serif" font-size="20.8333">25</text>
<text id="t-b-6" transform="translate(19.625 391) scale(1 1.053)" x="0.84 9.88 19.29" font-family="'DejaVu Sans','Liberation Sans',sans-serif" font-size="20.8333">0.2</text>
<text id="t-b-7" transform="translate(19.625 323) scale(1 1.053)" x="0.84 9.88 19.33" font-family="'DejaVu Sans','Liberation Sans',sans-serif" font-size="20.8333">0.3</text>
<text id="t-b-8" transform="translate(19.625 255) scale(1 1.053)" x="0.84 9.88 19.3" font-family="'DejaVu Sans','Liberation Sans',sans-serif" font-size="20.8333">0.4</text>
<text id="t-b-9" transform="translate(19.625 187) scale(1 1.053)" x="0.84 9.88 19.22" font-family="'DejaVu Sans','Liberation Sans',sans-serif" font-size="20.8333">0.5</text>
<text id="t-b-10" transform="translate(19.625 119) scale(1 1.053)" x="0.84 9.88 19.24" font-family="'DejaVu Sans','Liberation Sans',sans-serif" font-size="20.8333">0.6</text>
<text id="t-b-11" transform="translate(115 52) scale(1 1.015)" x="0.04 18.51 24.97 36.85 43.7 50.16 61.73 73.24 85.61 91.08 103.12 108.48 120.77 132.81 145.15 151.38 162.85 174.74 182.93 188.41 200.23 212.62 223.3 235.25 241.55 251.55 263.79" font-family="'DejaVu Sans','Liberation Sans',sans-serif" font-size="19.4444">% of explained variance sum</text>
</g>
</g>
<g id="panel-c">
<g transform="matrix(2.4407 0 0 2.438 83.82 1105.1)">
<path d="M80.5 60.5V445.5M156.5 60.5V445.5M231.5 60.5V445.5M306.5 60.5V445.5M382.5 60.5V445.5M63.5 65.5H450.5M63.5 117.5H450.5M63.5 168.5H450.5M63.5 220.5H450.5M63.5 272.5H450.5M63.5 324.5H450.5M63.5 376.5H450.5M63.5 428.5H450.5" stroke="#b0b0b0" stroke-width="1.111" fill="none"/>
<polyline points="80.11,77.5 80.42,162.78 80.72,302.16 81.02,318.22 81.32,327.55 81.62,346.97 81.92,359.93 82.22,363.81 82.53,373.4 82.83,381.17 83.13,385.06 83.43,389.72 83.73,391.53 84.03,394.38 84.34,396.2 84.64,399.05 84.94,400.08 85.24,403.04 85.54,404.02 85.84,404.02 86.15,404.87 86.45,407.8 86.75,408.63 87.05,409.62 87.35,410.47 87.65,411.71 87.96,412.23 88.26,412.7 88.56,413.15 88.86,413.57 89.16,413.96 89.46,414.33 89.76,414.67 90.07,415 90.37,415.31 90.67,415.61 90.97,415.89 91.27,416.15 91.57,416.4 91.88,416.64 92.18,416.87 92.48,417.24 92.78,417.59 93.08,417.92 93.38,418.23 93.69,418.52 93.99,418.8 94.29,419.06 94.59,419.31 94.89,419.55 95.19,419.78 95.5,419.99 95.8,420.2 96.1,420.4 96.4,420.58 96.7,420.76 97,420.93 97.31,421.1 97.61,421.26 97.91,421.41 98.21,421.55 98.51,421.69 98.81,421.83 99.11,421.96 99.42,422.08 99.72,422.2 100.02,422.31 100.32,422.42 100.62,422.53 100.92,422.63 101.23,422.73 101.53,422.83 101.83,422.93 102.13,423.02 102.43,423.11 102.73,423.2 103.04,423.28 103.34,423.36 103.64,423.44 103.94,423.51 104.24,423.59 104.54,423.66 104.85,423.73 105.15,423.79 105.45,423.86 105.75,423.92 106.05,423.98 106.35,424.04 106.65,424.1 106.96,424.16 107.26,424.21 107.56,424.27 107.86,424.32 108.16,424.37 108.46,424.42 108.77,424.47 109.07,424.51 109.37,424.56 109.67,424.6 109.97,424.65 110.27,424.69 110.58,424.73 110.88,424.77 111.18,424.81 111.48,424.85 111.78,424.88 112.08,424.92 112.39,424.96 112.69,424.99 112.99,425.03 113.29,425.06 113.59,425.09 113.89,425.12 114.19,425.15 114.5,425.18 114.8,425.21 115.1,425.24 115.4,425.27 115.7,425.3 116,425.33 116.31,425.36 116.61,425.38 116.91,425.41 117.21,425.43 117.51,425.46 117.81,425.48 118.12,425.51 118.42,425.53 118.72,425.55 119.02,425.57 119.32,425.6 119.62,425.62 119.93,425.64 120.23,425.66 120.53,425.68 120.83,425.7 121.13,425.72 121.43,425.74 121.73,425.76 122.04,425.78 122.34,425.8 122.64,425.81 122.94,425.83 123.24,425.85 123.54,425.87 123.85,425.88 124.15,425.9 124.45,425.92 124.75,425.93 125.05,425.95 125.35,425.96 125.66,425.98 125.96,425.99 126.26,426.01 126.56,426.02 126.86,426.04 127.16,426.05 127.47,426.06 127.77,426.08 128.07,426.09 128.37,426.1 128.67,426.12 128.97,426.13 129.27,426.14 129.58,426.16 129.88,426.17 130.18,426.18 130.48,426.19 130.78,426.2 131.08,426.22 131.39,426.23 131.69,426.24 131.99,426.25 132.29,426.26 132.59,426.27 132.89,426.28 133.2,426.29 133.5,426.3 133.8,426.31 134.1,426.32 134.4,426.33 134.7,426.34 135.01,426.35 135.31,426.36 135.61,426.37 135.91,426.38 136.21,426.39 136.51,426.4 136.82,426.41 137.12,426.42 137.42,426.42 137.72,426.43 138.02,426.44 138.32,426.45 138.62,426.46 138.93,426.47 139.23,426.47 139.53,426.48 139.83,426.49 140.13,426.5 140.43,426.5 140.74,426.51 141.04,426.52 141.34,426.53 141.64,426.54 141.94,426.55 142.24,426.56 142.55,426.56 142.85,426.57 143.15,426.58 143.45,426.59 143.75,426.6 144.05,426.6 144.36,426.61 144.66,426.62 144.96,426.63 145.26,426.63 145.56,426.64 145.86,426.65 146.16,426.66 146.47,426.66 146.77,426.67 147.07,426.68 147.37,426.68 147.67,426.69 147.97,426.7 148.28,426.7 148.58,426.71 148.88,426.72 149.18,426.72 149.48,426.73 149.78,426.73 150.09,426.74 150.39,426.75 150.69,426.75 150.99,426.76 151.29,426.76 151.59,426.77 151.9,426.77 152.2,426.78 152.5,426.79 152.8,426.79 153.1,426.8 153.4,426.8 153.7,426.81 154.01,426.81 154.31,426.82 154.61,426.82 154.91,426.83 155.21,426.83 155.51,426.84 155.82,426.84 156.12,426.85 156.42,426.85 156.72,426.86 157.02,426.86 157.32,426.87 157.63,426.87 157.93,426.87 158.23,426.88 158.53,426.88 158.83,426.89 159.13,426.89 159.44,426.9 159.74,426.9 160.04,426.9 160.34,426.91 160.64,426.91 160.94,426.92 161.24,426.92 161.55,426.93 161.85,426.93 162.15,426.93 162.45,426.94 162.75,426.94 163.05,426.94 163.36,426.95 163.66,426.95 163.96,426.96 164.26,426.96 164.56,426.96 164.86,426.97 165.17,426.97 165.47,426.97 165.77,426.98 166.07,426.98 166.37,426.98 166.67,426.99 166.98,426.99 167.28,426.99 167.58,427 167.88,427 168.18,427 168.48,427.01 168.79,427.01 169.09,427.01 169.39,427.02 169.69,427.02 169.99,427.02 170.29,427.03 170.59,427.03 170.9,427.03 171.2,427.03 171.5,427.04 171.8,427.04 172.1,427.04 172.4,427.05 172.71,427.05 173.01,427.05 173.31,427.05 173.61,427.06 173.91,427.06 174.21,427.06 174.52,427.06 174.82,427.07 175.12,427.07 175.42,427.07 175.72,427.08 176.02,427.08 176.33,427.08 176.63,427.08 176.93,427.09 177.23,427.09 177.53,427.09 177.83,427.09 178.13,427.09 178.44,427.1 178.74,427.1 179.04,427.1 179.34,427.1 179.64,427.11 179.94,427.11 180.25,427.11 180.55,427.11 180.85,427.12 181.15,427.12 181.45,427.12 181.75,427.12 182.06,427.12 182.36,427.13 182.66,427.13 182.96,427.13 183.26,427.13 183.56,427.13 183.87,427.14 184.17,427.14 184.47,427.14 184.77,427.14 185.07,427.14 185.37,427.15 185.67,427.15 185.98,427.15 186.28,427.15 186.58,427.15 186.88,427.16 187.18,427.16 187.48,427.16 187.79,427.16 188.09,427.16 188.39,427.17 188.69,427.17 188.99,427.17 189.29,427.17 189.6,427.17 189.9,427.17 190.2,427.18 190.5,427.18 190.8,427.18 191.1,427.18 191.41,427.18 191.71,427.18 192.01,427.19 192.31,427.19 192.61,427.19 192.91,427.19 193.21,427.19 193.52,427.19 193.82,427.19 194.12,427.2 194.42,427.2 194.72,427.2 195.02,427.2 195.33,427.2 195.63,427.2 195.93,427.21 196.23,427.21 196.53,427.21 196.83,427.21 197.14,427.21 197.44,427.21 197.74,427.21 198.04,427.22 198.34,427.22 198.64,427.22 198.95,427.22 199.25,427.22 199.55,427.22 199.85,427.22 200.15,427.22 200.45,427.23 200.75,427.23 201.06,427.23 201.36,427.23 201.66,427.23 201.96,427.23 202.26,427.23 202.56,427.24 202.87,427.24 203.17,427.24 203.47,427.24 203.77,427.24 204.07,427.24 204.37,427.24 204.68,427.24 204.98,427.25 205.28,427.25 205.58,427.25 205.88,427.25 206.18,427.25 206.49,427.25 206.79,427.25 207.09,427.25 207.39,427.25 207.69,427.26 207.99,427.26 208.3,427.26 208.6,427.26 208.9,427.26 209.2,427.26 209.5,427.26 209.8,427.26 210.1,427.26 210.41,427.27 210.71,427.27 211.01,427.27 211.31,427.27 211.61,427.27 211.91,427.27 212.22,427.27 212.52,427.27 212.82,427.27 213.12,427.28 213.42,427.28 213.72,427.28 214.03,427.28 214.33,427.28 214.63,427.28 214.93,427.28 215.23,427.28 215.53,427.28 215.84,427.28 216.14,427.28 216.44,427.29 216.74,427.29 217.04,427.29 217.34,427.29 217.64,427.29 217.95,427.29 218.25,427.29 218.55,427.29 218.85,427.29 219.15,427.29 219.45,427.3 219.76,427.3 220.06,427.3 220.36,427.3 220.66,427.3 220.96,427.3 221.26,427.3 221.57,427.3 221.87,427.3 222.17,427.3 222.47,427.3 222.77,427.3 223.07,427.31 223.38,427.31 223.68,427.31 223.98,427.31 224.28,427.31 224.58,427.31 224.88,427.31 225.18,427.31 225.49,427.31 225.79,427.31 226.09,427.31 226.39,427.31 226.69,427.32 226.99,427.32 227.3,427.32 227.6,427.32 227.9,427.32 228.2,427.32 228.5,427.32 228.8,427.32 229.11,427.32 229.41,427.32 229.71,427.32 230.01,427.32 230.31,427.32 230.61,427.32 230.92,427.33 231.22,427.33 231.52,427.33 231.82,427.33 232.12,427.33 232.42,427.33 232.72,427.33 233.03,427.33 233.33,427.33 233.63,427.33 233.93,427.33 234.23,427.33 234.53,427.33 234.84,427.33 235.14,427.34 235.44,427.34 235.74,427.34 236.04,427.34 236.34,427.34 236.65,427.34 236.95,427.34 237.25,427.34 237.55,427.34 237.85,427.34 238.15,427.34 238.46,427.34 238.76,427.34 239.06,427.34 239.36,427.34 239.66,427.35 239.96,427.35 240.27,427.35 240.57,427.35 240.87,427.35 241.17,427.35 241.47,427.35 241.77,427.35 242.07,427.35 242.38,427.35 242.68,427.35 242.98,427.35 243.28,427.35 243.58,427.35 243.88,427.35 244.19,427.35 244.49,427.35 244.79,427.36 245.09,427.36 245.39,427.36 245.69,427.36 246,427.36 246.3,427.36 246.6,427.36 246.9,427.36 247.2,427.36 247.5,427.36 247.81,427.36 248.11,427.36 248.41,427.36 248.71,427.36 249.01,427.36 249.31,427.36 249.61,427.36 249.92,427.36 250.22,427.37 250.52,427.37 250.82,427.37 251.12,427.37 251.42,427.37 251.73,427.37 252.03,427.37 252.33,427.37 252.63,427.37 252.93,427.37 253.23,427.37 253.54,427.37 253.84,427.37 254.14,427.37 254.44,427.37 254.74,427.37 255.04,427.37 255.35,427.37 255.65,427.37 255.95,427.37 256.25,427.38 256.55,427.38 256.85,427.38 257.15,427.38 257.46,427.38 257.76,427.38 258.06,427.38 258.36,427.38 258.66,427.38 258.96,427.38 259.27,427.38 259.57,427.38 259.87,427.38 260.17,427.38 260.47,427.38 260.77,427.38 261.08,427.38 261.38,427.38 261.68,427.38 261.98,427.38 262.28,427.38 262.58,427.39 262.89,427.39 263.19,427.39 263.49,427.39 263.79,427.39 264.09,427.39 264.39,427.39 264.69,427.39 265,427.39 265.3,427.39 265.6,427.39 265.9,427.39 266.2,427.39 266.5,427.39 266.81,427.39 267.11,427.39 267.41,427.39 267.71,427.39 268.01,427.39 268.31,427.39 268.62,427.4 268.92,427.4 269.22,427.4 269.52,427.4 269.82,427.4 270.12,427.4 270.43,427.4 270.73,427.4 271.03,427.4 271.33,427.4 271.63,427.4 271.93,427.4 272.23,427.4 272.54,427.4 272.84,427.4 273.14,427.4 273.44,427.4 273.74,427.4 274.04,427.4 274.35,427.4 274.65,427.4 274.95,427.4 275.25,427.4 275.55,427.41 275.85,427.41 276.16,427.41 276.46,427.41 276.76,427.41 277.06,427.41 277.36,427.41 277.66,427.41 277.97,427.41 278.27,427.41 278.57,427.41 278.87,427.41 279.17,427.41 279.47,427.41 279.78,427.41 280.08,427.41 280.38,427.41 280.68,427.41 280.98,427.41 281.28,427.41 281.58,427.41 281.89,427.41 282.19,427.41 282.49,427.41 282.79,427.41 283.09,427.42 283.39,427.42 283.7,427.42 284,427.42 284.3,427.42 284.6,427.42 284.9,427.42 285.2,427.42 285.51,427.42 285.81,427.42 286.11,427.42 286.41,427.42 286.71,427.42 287.01,427.42 287.32,427.42 287.62,427.42 287.92,427.42 288.22,427.42 288.52,427.42 288.82,427.42 289.12,427.42 289.43,427.42 289.73,427.42 290.03,427.42 290.33,427.42 290.63,427.42 290.93,427.42 291.24,427.42 291.54,427.43 291.84,427.43 292.14,427.43 292.44,427.43 292.74,427.43 293.05,427.43 293.35,427.43 293.65,427.43 293.95,427.43 294.25,427.43 294.55,427.43 294.86,427.43 295.16,427.43 295.46,427.43 295.76,427.43 296.06,427.43 296.36,427.43 296.66,427.43 296.97,427.43 297.27,427.43 297.57,427.43 297.87,427.43 298.17,427.43 298.47,427.43 298.78,427.43 299.08,427.43 299.38,427.43 299.68,427.43 299.98,427.43 300.28,427.43 300.59,427.43 300.89,427.43 301.19,427.44 301.49,427.44 301.79,427.44 302.09,427.44 302.4,427.44 302.7,427.44 303,427.44 303.3,427.44 303.6,427.44 303.9,427.44 304.2,427.44 304.51,427.44 304.81,427.44 305.11,427.44 305.41,427.44 305.71,427.44 306.01,427.44 306.32,427.44 306.62,427.44 306.92,427.44 307.22,427.44 307.52,427.44 307.82,427.44 308.13,427.44 308.43,427.44 308.73,427.44 309.03,427.44 309.33,427.44 309.63,427.44 309.94,427.44 310.24,427.44 310.54,427.44 310.84,427.44 311.14,427.44 311.44,427.44 311.75,427.44 312.05,427.44 312.35,427.45 312.65,427.45 312.95,427.45 313.25,427.45 313.55,427.45 313.86,427.45 314.16,427.45 314.46,427.45 314.76,427.45 315.06,427.45 315.36,427.45 315.67,427.45 315.97,427.45 316.27,427.45 316.57,427.45 316.87,427.45 317.17,427.45 317.48,427.45 317.78,427.45 318.08,427.45 318.38,427.45 318.68,427.45 318.98,427.45 319.29,427.45 319.59,427.45 319.89,427.45 320.19,427.45 320.49,427.45 320.79,427.45 321.09,427.45 321.4,427.45 321.7,427.45 322,427.45 322.3,427.45 322.6,427.45 322.9,427.45 323.21,427.45 323.51,427.45 323.81,427.45 324.11,427.45 324.41,427.45 324.71,427.45 325.02,427.45 325.32,427.46 325.62,427.46 325.92,427.46 326.22,427.46 326.52,427.46 326.83,427.46 327.13,427.46 327.43,427.46 327.73,427.46 328.03,427.46 328.33,427.46 328.63,427.46 328.94,427.46 329.24,427.46 329.54,427.46 329.84,427.46 330.14,427.46 330.44,427.46 330.75,427.46 331.05,427.46 331.35,427.46 331.65,427.46 331.95,427.46 332.25,427.46 332.56,427.46 332.86,427.46 333.16,427.46 333.46,427.46 333.76,427.46 334.06,427.46 334.37,427.46 334.67,427.46 334.97,427.46 335.27,427.46 335.57,427.46 335.87,427.46 336.17,427.46 336.48,427.46 336.78,427.46 337.08,427.46 337.38,427.46 337.68,427.46 337.98,427.46 338.29,427.46 338.59,427.46 338.89,427.46 339.19,427.46 339.49,427.46 339.79,427.46 340.1,427.46 340.4,427.46 340.7,427.47 341,427.47 341.3,427.47 341.6,427.47 341.91,427.47 342.21,427.47 342.51,427.47 342.81,427.47 343.11,427.47 343.41,427.47 343.71,427.47 344.02,427.47 344.32,427.47 344.62,427.47 344.92,427.47 345.22,427.47 345.52,427.47 345.83,427.47 346.13,427.47 346.43,427.47 346.73,427.47 347.03,427.47 347.33,427.47 347.64,427.47 347.94,427.47 348.24,427.47 348.54,427.47 348.84,427.47 349.14,427.47 349.45,427.47 349.75,427.47 350.05,427.47 350.35,427.47 350.65,427.47 350.95,427.47 351.26,427.47 351.56,427.47 351.86,427.47 352.16,427.47 352.46,427.47 352.76,427.47 353.06,427.47 353.37,427.47 353.67,427.47 353.97,427.47 354.27,427.47 354.57,427.47 354.87,427.47 355.18,427.47 355.48,427.47 355.78,427.47 356.08,427.47 356.38,427.47 356.68,427.47 356.99,427.47 357.29,427.47 357.59,427.47 357.89,427.47 358.19,427.47 358.49,427.47 358.8,427.47 359.1,427.47 359.4,427.48 359.7,427.48 360,427.48 360.3,427.48 360.6,427.48 360.91,427.48 361.21,427.48 361.51,427.48 361.81,427.48 362.11,427.48 362.41,427.48 362.72,427.48 363.02,427.48 363.32,427.48 363.62,427.48 363.92,427.48 364.22,427.48 364.53,427.48 364.83,427.48 365.13,427.48 365.43,427.48 365.73,427.48 366.03,427.48 366.34,427.48 366.64,427.48 366.94,427.48 367.24,427.48 367.54,427.48 367.84,427.48 368.14,427.48 368.45,427.48 368.75,427.48 369.05,427.48 369.35,427.48 369.65,427.48 369.95,427.48 370.26,427.48 370.56,427.48 370.86,427.48 371.16,427.48 371.46,427.48 371.76,427.48 372.07,427.48 372.37,427.48 372.67,427.48 372.97,427.48 373.27,427.48 373.57,427.48 373.88,427.48 374.18,427.48 374.48,427.48 374.78,427.48 375.08,427.48 375.38,427.48 375.68,427.48 375.99,427.48 376.29,427.48 376.59,427.48 376.89,427.48 377.19,427.48 377.49,427.48 377.8,427.48 378.1,427.48 378.4,427.48 378.7,427.48 379,427.48 379.3,427.48 379.61,427.48 379.91,427.48 380.21,427.48 380.51,427.48 380.81,427.48 381.11,427.48 381.42,427.48 381.72,427.48 382.02,427.48 382.32,427.48 382.62,427.48 382.92,427.49 383.23,427.49 383.53,427.49 383.83,427.49 384.13,427.49 384.43,427.49 384.73,427.49 385.03,427.49 385.34,427.49 385.64,427.49 385.94,427.49 386.24,427.49 386.54,427.49 386.84,427.49 387.15,427.49 387.45,427.49 387.75,427.49 388.05,427.49 388.35,427.49 388.65,427.49 388.96,427.49 389.26,427.49 389.56,427.49 389.86,427.49 390.16,427.49 390.46,427.49 390.77,427.49 391.07,427.49 391.37,427.49 391.67,427.49 391.97,427.49 392.27,427.49 392.57,427.49 392.88,427.49 393.18,427.49 393.48,427.49 393.78,427.49 394.08,427.49 394.38,427.49 394.69,427.49 394.99,427.49 395.29,427.49 395.59,427.49 395.89,427.49 396.19,427.49 396.5,427.49 396.8,427.49 397.1,427.49 397.4,427.49 397.7,427.49 398,427.49 398.31,427.49 398.61,427.49 398.91,427.49 399.21,427.49 399.51,427.49 399.81,427.49 400.11,427.49 400.42,427.49 400.72,427.49 401.02,427.49 401.32,427.49 401.62,427.49 401.92,427.49 402.23,427.49 402.53,427.49 402.83,427.49 403.13,427.49 403.43,427.49 403.73,427.49 404.04,427.49 404.34,427.49 404.64,427.49 404.94,427.49 405.24,427.49 405.54,427.49 405.85,427.49 406.15,427.49 406.45,427.49 406.75,427.49 407.05,427.49 407.35,427.49 407.65,427.49 407.96,427.49 408.26,427.49 408.56,427.49 408.86,427.49 409.16,427.49 409.46,427.49 409.77,427.49 410.07,427.49 410.37,427.49 410.67,427.49 410.97,427.49 411.27,427.49 411.58,427.49 411.88,427.49 412.18,427.49 412.48,427.49 412.78,427.49 413.08,427.49 413.39,427.5 413.69,427.5 413.99,427.5 414.29,427.5 414.59,427.5 414.89,427.5 415.19,427.5 415.5,427.5 415.8,427.5 416.1,427.5 416.4,427.5 416.7,427.5 417,427.5 417.31,427.5 417.61,427.5 417.91,427.5 418.21,427.5 418.51,427.5 418.81,427.5 419.12,427.5 419.42,427.5 419.72,427.5 420.02,427.5 420.32,427.5 420.62,427.5 420.93,427.5 421.23,427.5 421.53,427.5 421.83,427.5 422.13,427.5 422.43,427.5 422.74,427.5 423.04,427.5 423.34,427.5 423.64,427.5 423.94,427.5 424.24,427.5 424.54,427.5 424.85,427.5 425.15,427.5 425.45,427.5 425.75,427.5 426.05,427.5 426.35,427.5 426.66,427.5 426.96,427.5 427.26,427.5 427.56,427.5 427.86,427.5 428.16,427.5 428.47,427.5 428.77,427.5 429.07,427.5 429.37,427.5 429.67,427.5 429.97,427.5 430.28,427.5 430.58,427.5 430.88,427.5 431.18,427.5 431.48,427.5 431.78,427.5 432.08,427.5 432.39,427.5" stroke="#1c73b1" stroke-width="1.9" fill="none" stroke-linejoin="round"/>
</g>
<path d="M284.5 1307.6 281.5 1308.2 279.5 1308.2 275.5 1307.3 273.5 1306.2 270.8 1303.5 269.2 1300.5 268.5 1297.5 268.5 1295.5 269.6 1291.5 270.8 1289.5 272.7 1287.5 275.5 1285.6 279.5 1284.8 281.5 1284.8 284.5 1285.4 287.5 1287.1 289.5 1289.1 291.4 1292.5 291.9 1294.5 292 1297.5 291 1301.5 289.8 1303.5 287.9 1305.5ZM284.5 1514.8 281.5 1515.5 279.5 1515.5 275.5 1514.6 273.5 1513.4 272.6 1512.5 270.6 1510.5 269.4 1508.5 268.5 1504.5 268.5 1502.5 269.2 1499.5 270.2 1497.5 271.5 1495.9 273.5 1494 275.5 1492.9 279.5 1492 281.5 1492 284.5 1492.6 287.5 1494.3 289.5 1496.3 291.4 1499.5 292 1502.5 292 1504.5 291.2 1508.5 290 1510.5 288.1 1512.5 286.5 1513.8ZM286.5 1853.8 284.5 1854.3 281.5 1854.3 278.1 1853.5 275.5 1851.9 273.5 1850 271.6 1846.5 271 1842.5 271.6 1838.5 273.5 1835.2 275.5 1833.3 278.5 1831.5 281.5 1830.9 283.5 1830.9 287.5 1831.7 289.5 1832.9 292.2 1835.5 293.9 1838.5 294.5 1841.5 294.5 1843.5 293.5 1847.5 292.3 1849.5 289.5 1852.3ZM284.5 1917.7 281.5 1917.7 278.5 1917.1 275.7 1915.5 272.9 1912.5 271.7 1910.5 271 1907.5 271 1904.5 271.7 1901.5 272.8 1899.5 275.7 1896.5 280.2 1894.5 280.6 1893.5 275.5 1890.9 273.1 1888.5 271.9 1886.5 271 1882.5 271 1880.5 271.6 1877.5 273.2 1874.5 275.5 1872.3 278.5 1870.5 281.5 1869.9 284.5 1870 286.5 1870.4 289.5 1871.9 292.9 1875.5 293.8 1877.5 294.5 1880.5 294.4 1883.5 293.9 1885.5 292.3 1888.5 289.5 1891.3 284.8 1893.5 285.2 1894.5 289.8 1896.5 292.7 1899.5 293.7 1901.5 294.5 1904.5 294.5 1906.5 293.7 1910.5 292.6 1912.5 289.5 1915.7 287.5 1916.8ZM288.5 1963.6 286.5 1964 284.5 1964 280.5 1963.2 278.5 1962.1 275.8 1959.5 274.1 1956.5 273.4 1953.5 273.4 1951.5 274.3 1947.5 275.5 1945.5 278.5 1942.5 280.5 1941.4 284.5 1940.5 286.5 1940.6 289.5 1941.2 291.5 1942.3 293 1943.5 294.9 1945.5 296 1947.5 296.9 1951.5 296.9 1953.5 296.3 1956.5 294.6 1959.5 292.6 1961.5 289.5 1963.4ZM1140.5 2161.6 1138 2161.5 1133.5 2160.7 430.5 2160.7 427.5 2160.5 423.5 2158.5 421.5 2158.3 373.5 2158.2 371.5 2157.5 369.5 2156.3 367.5 2155.8 351.5 2155.7 349.5 2155.1 347.5 2153.8 346.2 2153.5 339.5 2153.4 337.5 2152.8 334.5 2151.2 331.5 2150.9 329.5 2150.4 326.5 2148.6 324.3 2148.5 321.5 2146.5 317.5 2145.5 316.5 2144.6 313.5 2143.2 311.5 2141.6 309.5 2140.8 295.9 2127.5 291.3 2122.5 291.1 2121.5 289.1 2118.5 288.2 2115.5 286.9 2113.5 286.2 2110.5 284.3 2107.5 283.2 2102.5 283.3 2097.5 281.5 2093.5 280.8 2090.5 281.1 2084.5 278.4 2073.5 278.1 2069.5 278.2 2066.5 277.1 2063.5 275.9 2058.5 275.9 2055.5 276.8 2051.5 275.9 2046.5 275.9 2043.5 276.6 2040.5 275.9 2036.5 276 2033.5 276.7 2030.5 277.9 2028.5 279.7 2026.5 280.1 2025.5 279.8 2024.5 277.9 2022.5 276.8 2020.5 276 2017.5 275.9 2014.5 276.5 2011.5 277 2010.5 278.2 2008.5 280.6 2006.5 280.8 2005.5 275.4 2000.5 274.3 1998.5 273.4 1994.5 273.4 1992.5 274.2 1988.5 273.4 1985.5 273.4 1982.5 274.2 1979.5 275.2 1977.5 276.5 1976.1 278.5 1974.2 280.5 1973.1 283.5 1972.3 287.5 1972.5 289.5 1972.9 291.5 1974 294.5 1976.8 296.2 1979.5 296.9 1982.5 296.9 1985.5 296.2 1988.5 296.9 1992.5 296.8 1995.5 296.1 1998.5 294.9 2000.5 292.6 2002.5 291.9 2003.5 292.3 2004.5 295 2006.5 297.7 2009.5 298.7 2011.5 299.4 2014.5 299.3 2017.5 298.5 2020.5 297.3 2022.5 295.4 2024.5 295.1 2025.5 295.4 2026.5 297.4 2028.5 298.5 2030.4 299.3 2033.5 299.3 2036.5 298.6 2040.5 299.3 2043.5 299.4 2045.5 298.4 2051.5 298.9 2053.5 300.4 2055.5 301.7 2060.5 302 2064.5 301.8 2067.5 302.3 2071.5 303.5 2074.5 304.9 2079.5 305 2083.5 306.3 2087.5 307.3 2089.5 307.7 2091.5 307 2095.5 307.3 2096.5 308.3 2098.5 308.6 2100.5 310.6 2103.5 311.2 2105.5 313.5 2108.6 317.1 2111.5 321.5 2116.6 324.5 2118.8 326.5 2119.5 328.8 2121.5 329.5 2121.9 331.5 2122 333.5 2123.8 334.5 2124.3 338.5 2124.5 342.5 2126.5 350.5 2126.8 354.5 2128.9 356.5 2129.1 372.5 2129.2 374.5 2129.8 376.5 2131.1 378.5 2131.6 425.5 2131.6 428.5 2132 430.5 2133.4 432.5 2134 1138.5 2134 1140.5 2134.5 1142.5 2135.8 1146.5 2137.2 1148.5 2139.2 1149.7 2140.5 1151.2 2144.5 1151.9 2145.5 1152.3 2148.5 1152.2 2149.5 1150.8 2152.5 1150.4 2154.5 1149.2 2156.5 1145.5 2159.9 1143.5 2160.9Z" fill="#ff0000" fill-rule="evenodd"/>
<g transform="matrix(2.4407 0 0 2.438 83.82 1105.1)">
<path d="M80.5 445.5v5.3M156.5 445.5v5.3M231.5 445.5v5.3M306.5 445.5v5.3M382.5 445.5v5.3M63.5 65.5h-5.3M63.5 117.5h-5.3M63.5 168.5h-5.3M63.5 220.5h-5.3M63.5 272.5h-5.3M63.5 324.5h-5.3M63.5 376.5h-5.3M63.5 428.5h-5.3" stroke="#000" stroke-width="1.111" fill="none"/>
<path d="M63.5 60.5H450.5V445.5H63.5Z" stroke="#000" stroke-width="1.111" fill="none" stroke-linejoin="miter"/>
<text id="t-c-0" transform="translate(73.625 471) scale(1 1.053)" x="0.42" font-family="'DejaVu Sans','Liberation Sans',sans-serif" font-size="20.8333">0</text>
<text id="t-c-1" transform="translate(135.5 471) scale(1 1.053)" x="0.57 12.67 26" font-family="'DejaVu Sans','Liberation Sans',sans-serif" font-size="20.8333">250</text>
<text id="t-c-2" transform="translate(211.375 471) scale(1 1.053)" x="0.57 12.89 26.1" font-family="'DejaVu Sans','Liberation Sans',sans-serif" font-size="20.8333">500</text>
<text id="t-c-3" transform="translate(286.25 471) scale(1 1.053)" x="0.76 12.98 26.31" font-family="'DejaVu Sans','Liberation Sans',sans-serif" font-size="20.8333">750</text>
<text id="t-c-4" transform="translate(355.688 471) scale(1 1.053)" x="0.32 12.56 25.84 39.09" font-family="'DejaVu Sans','Liberation Sans',sans-serif" font-size="20.8333">1000</text>
<text id="t-c-5" transform="translate(39.625 436) scale(1 1.053)" x="0.39" font-family="'DejaVu Sans','Liberation Sans',sans-serif" font-size="20.8333">0</text>
<text id="t-c-6" transform="translate(39.5 384) scale(1 1.053)" x="0.57" font-family="'DejaVu Sans','Liberation Sans',sans-serif" font-size="20.8333">2</text>
<text id="t-c-7" transform="translate(40 332) scale(1 1.053)" x="0.05" font-family="'DejaVu Sans','Liberation Sans',sans-serif" font-size="20.8333">4</text>
<text id="t-c-8" transform="translate(39.5 280) scale(1 1.053)" x="0.57" font-family="'DejaVu Sans','Liberation Sans',sans-serif" font-size="20.8333">6</text>
<text id="t-c-9" transform="translate(39.625 228) scale(1 1.053)" x="0.34" font-family="'DejaVu Sans','Liberation Sans',sans-serif" font-size="20.8333">8</text>
<text id="t-c-10" transform="translate(26.688 176) scale(1 1.053)" x="0.33 12.57" font-family="'DejaVu Sans','Liberation Sans',sans-serif" font-size="20.8333">10</text>
<text id="t-c-11" transform="translate(26.688 125) scale(1 1.053)" x="0.33 12.56" font-family="'DejaVu Sans','Liberation Sans',sans-serif" font-size="20.8333">12</text>
<text id="t-c-12" transform="translate(26.688 73) scale(1 1.053)" x="0.33 12.51" font-family="'DejaVu Sans','Liberation Sans',sans-serif" font-size="20.8333">14</text>
<text id="t-c-13" transform="translate(139 52) scale(1 1.015)" x="0.09 18.56 24.91 36.89 43.73 50.13 61.64 73.43 81.62 87.09 98.96 111.34 122.1 134.06 140.34 151.84 163.34 175.86 181.17 193.22 198.57 210.92 222.88" font-family="'DejaVu Sans','Liberation Sans',sans-serif" font-size="19.4444">% of variance explained</text>
</g>
</g>
<g id="panel-d">
<g transform="matrix(2.4407 0 0 2.438 1385.22 1105.1)">
<path d="M80.5 60.5V445.5M151.5 60.5V445.5M221.5 60.5V445.5M291.5 60.5V445.5M362.5 60.5V445.5M432.5 60.5V445.5M63.5 64.5H450.5M63.5 119.5H450.5M63.5 173.5H450.5M63.5 227.5H450.5M63.5 282.5H450.5M63.5 336.5H450.5M63.5 391.5H450.5" stroke="#b0b0b0" stroke-width="1.111" fill="none"/>
<polyline points="80.11,77.54 94.2,167.07 108.3,313.38 122.39,330.24 136.48,340.03 150.57,360.42 164.66,374.02 178.75,378.1 192.84,388.16 206.93,396.32 221.02,400.4 235.11,405.3 249.2,407.2 263.3,410.19 277.39,412.09 291.48,415.09 305.57,416.17 319.66,419.27 333.75,420.31 347.84,420.31 361.93,421.2 376.02,424.28 390.11,425.15 404.2,426.18 418.3,427.08 432.39,428.38" stroke="#1c73b1" stroke-width="1.9" fill="none" stroke-linejoin="round"/>
</g>
<path d="M1585.5 1307.6 1583.5 1308.1 1580.5 1308.2 1577.3 1307.5 1574.5 1305.8 1572.5 1303.9 1570.5 1300.5 1570 1297.5 1570 1295.5 1571 1291.5 1572.1 1289.5 1574.1 1287.5 1577.5 1285.4 1580.5 1284.8 1582.5 1284.8 1586.5 1285.6 1588.5 1286.8 1591.2 1289.5 1592.8 1292.5 1593.5 1295.5 1593.5 1297.5 1592.4 1301.5 1591.2 1303.5 1588.5 1306.2ZM1619.5 1524.7 1617.5 1525.1 1614.5 1525.2 1611.5 1524.5 1608.5 1522.6 1606.5 1520.7 1604.7 1517.5 1604.1 1514.5 1604.1 1512.5 1605.1 1508.5 1606.2 1506.5 1608.2 1504.5 1611.5 1502.4 1614.5 1501.8 1616.5 1501.7 1620.5 1502.5 1622.5 1503.7 1625.5 1506.5 1627 1509.5 1627.5 1511.5 1627.6 1514.5 1626.6 1518.5 1625.4 1520.5 1623.4 1522.5 1620.5 1524.4ZM1653.5 1880.6 1651.5 1881.1 1649.5 1881.1 1645.5 1880.4 1643.5 1879.3 1640.5 1876.5 1638.9 1873.5 1638.3 1870.5 1638.3 1868.5 1639.3 1864.5 1640.4 1862.5 1642.4 1860.5 1645.5 1858.4 1649.5 1857.7 1651.5 1857.7 1654.5 1858.4 1656.5 1859.5 1659.5 1862.3 1661.2 1865.5 1661.7 1867.5 1661.8 1870.5 1660.7 1874.5 1659.5 1876.5 1657.5 1878.5 1654.5 1880.4ZM1685.5 1922.6 1682.5 1922.6 1679.5 1921.8 1677.5 1920.7 1674.4 1917.5 1673.3 1915.5 1672.5 1912.5 1672.4 1909.5 1673.2 1906.5 1674.2 1904.5 1677.5 1901.1 1679.5 1900 1682.5 1899.2 1685.5 1899.2 1688.5 1899.8 1691.4 1901.5 1694.2 1904.5 1695.3 1906.5 1695.9 1909.5 1695.9 1912.5 1695.4 1914.5 1694 1917.5 1690.5 1920.9 1688.5 1921.9ZM1721.5 1946.5 1719.5 1946.9 1717.5 1947 1713.5 1946 1711.5 1944.9 1709.5 1943 1708.3 1941.5 1707.3 1939.5 1706.6 1936.5 1706.6 1934.5 1707.5 1930.5 1708.7 1928.5 1711.5 1925.6 1714.5 1924.1 1716.5 1923.6 1719.5 1923.5 1722.5 1924.1 1725.5 1925.8 1728.1 1928.5 1729.3 1930.5 1730.1 1934.5 1730.1 1936.5 1729.5 1939.5 1727.7 1942.5 1725.7 1944.5 1723.5 1945.9ZM1756.5 1995.7 1753.5 1995.7 1750.5 1995 1748.5 1993.9 1745 1990.5 1744 1988.5 1743.3 1985.5 1743.3 1982.5 1744 1979.5 1745 1977.5 1748.5 1974.1 1750.5 1973 1753.5 1972.3 1756.5 1972.3 1759.5 1973 1761.5 1974.1 1764.9 1977.5 1766 1979.5 1766.7 1982.5 1766.7 1985.5 1766 1988.5 1764.9 1990.5 1761.5 1993.9 1759.5 1995ZM1791.5 2029.6 1787.5 2029.8 1784.5 2029.1 1782.5 2028 1779.1 2024.5 1778.1 2022.5 1777.4 2019.5 1777.4 2016.5 1778.2 2013.5 1779.3 2011.5 1782.5 2008.3 1784.5 2007.2 1787.5 2006.4 1791 2006.5 1793.5 2007.1 1795.5 2008.1 1799 2011.5 1800.1 2013.5 1800.8 2016.5 1800.7 2020.5 1800.2 2022.5 1799.1 2024.5 1795.5 2028.1 1793.5 2029.2ZM1824.5 2039.6 1821.5 2039.6 1818.5 2038.7 1816.5 2037.6 1813.5 2034.5 1812.4 2032.5 1811.6 2029.5 1811.6 2026.5 1812.3 2023.5 1813.3 2021.5 1816.5 2018.2 1818.5 2017 1821.5 2016.2 1824.5 2016.2 1827.5 2016.8 1830.5 2018.5 1833.3 2021.5 1834.4 2023.5 1835 2026.5 1835 2029.5 1834.5 2031.5 1833.1 2034.5 1829.5 2038 1827.5 2039ZM1860.5 2063.6 1856.5 2064 1852.5 2063 1850.5 2061.8 1848.5 2059.9 1846.4 2056.5 1845.8 2053.5 1845.7 2051.5 1846.6 2047.5 1847.8 2045.5 1850.5 2042.7 1853.5 2041.1 1856.5 2040.5 1858.5 2040.5 1862.5 2041.6 1864.5 2042.8 1866.5 2044.7 1868.5 2047.9 1869.2 2051.5 1869.2 2053.5 1868.5 2056.7 1866.8 2059.5 1864.5 2061.8 1862.5 2063ZM1892.5 2083.5 1890.5 2083.5 1887.5 2082.9 1884.5 2081.1 1881.9 2078.5 1880.8 2076.5 1880 2073.5 1880 2070.5 1880.6 2067.5 1882.4 2064.5 1884.5 2062.3 1886.5 2061.2 1887.5 2060.7 1890.5 2060.1 1893.5 2060.1 1895.5 2060.6 1898.5 2062.1 1901.7 2065.5 1902.7 2067.5 1903.4 2070.5 1903.4 2073.5 1902.9 2075.5 1901.4 2078.5 1898.5 2081.4 1897.5 2082 1895.5 2082.9ZM1929.5 2092.7 1927.5 2093.2 1924.5 2093.2 1921.3 2092.5 1918.5 2090.7 1916.5 2088.8 1914.7 2085.5 1914.2 2083.5 1914.1 2080.5 1915.1 2076.5 1916.3 2074.5 1918.3 2072.5 1921.5 2070.5 1924.5 2069.8 1926.5 2069.8 1930.5 2070.6 1932.5 2071.8 1935.4 2074.5 1937 2077.5 1937.5 2079.6 1937.6 2082.5 1936.6 2086.5 1935.4 2088.5 1933.4 2090.5 1930.5 2092.4ZM1964.5 2104.7 1960.5 2105.5 1958.5 2105.4 1955.5 2104.7 1953.5 2103.6 1952.2 2102.5 1950.2 2100.5 1949.1 2098.5 1948.2 2094.5 1948.3 2092.5 1948.9 2089.5 1950.6 2086.5 1953.5 2083.8 1955.5 2082.7 1959.5 2082 1961.5 2082 1964.5 2082.7 1966.5 2083.8 1969.4 2086.5 1971.1 2089.5 1971.7 2092.5 1971.8 2094.5 1970.9 2098.5 1969.8 2100.5 1967.8 2102.5 1966.5 2103.6ZM1998.5 2109.6 1995.5 2110.3 1993.5 2110.3 1989.5 2109.5 1987.5 2108.3 1984.5 2105.5 1983.4 2103.5 1982.4 2099.5 1982.4 2097.5 1983 2094.5 1984.7 2091.5 1987.5 2088.8 1989.5 2087.7 1993.5 2086.9 1995.5 2086.9 1998.5 2087.5 2001.5 2089.4 2003.5 2091.3 2005.3 2094.5 2005.9 2097.5 2005.9 2099.5 2004.9 2103.5 2003.8 2105.5 2001.8 2107.5ZM2029.5 2117.7 2026.5 2117.6 2024.5 2117.1 2021.5 2115.6 2018.5 2112.5 2017.4 2110.5 2016.6 2107.5 2016.6 2104.5 2017.3 2101.5 2018.4 2099.5 2021.5 2096.2 2023.5 2095.1 2026.5 2094.3 2029.5 2094.2 2032.5 2094.8 2035.5 2096.5 2038.3 2099.5 2039.4 2101.5 2040 2104.5 2040 2107.5 2039.6 2109.5 2038.2 2112.5 2034.5 2116 2032.5 2117ZM2063.5 2122.5 2061.5 2122.5 2058.5 2121.9 2055.5 2120.3 2052.8 2117.5 2051.6 2115.5 2050.8 2112.5 2050.8 2109.5 2051.4 2106.5 2053.2 2103.5 2055.5 2101.2 2057.5 2100.1 2061.5 2099.1 2064.5 2099.2 2066.5 2099.6 2069.5 2101.2 2072.5 2104.5 2073.6 2106.5 2074.2 2109.5 2074.2 2112.5 2073.7 2114.5 2072.2 2117.5 2068.5 2121 2066.5 2121.9ZM2098.5 2129.7 2095.5 2129.8 2092.5 2129.2 2089.5 2127.5 2086.8 2124.5 2085.6 2122.5 2085 2119.5 2085 2116.5 2085.5 2114.5 2086.9 2111.5 2090.5 2108 2092.5 2107 2095.5 2106.3 2098.5 2106.4 2100.5 2106.9 2103.5 2108.4 2106.5 2111.5 2107.6 2113.5 2108.4 2116.5 2108.4 2119.5 2107.7 2122.5 2106.6 2124.5 2103.5 2127.8 2101.5 2128.9ZM2137.5 2131.6 2134.5 2132.3 2132.5 2132.3 2128.5 2131.4 2126.5 2130.2 2124.5 2128.3 2122.5 2125.4 2121.5 2121.5 2121.5 2119.5 2122.2 2116.5 2123.8 2113.5 2126.5 2110.8 2128.5 2109.7 2132.5 2108.8 2134.5 2108.8 2137.5 2109.4 2140.5 2111.2 2142.5 2113.1 2144.4 2116.5 2145 2119.5 2145 2121.5 2144 2125.5 2142.9 2127.5 2140.9 2129.5ZM2168.5 2139.6 2165.6 2139.5 2163.5 2139 2160.5 2137.4 2157.7 2134.5 2156.5 2132.5 2155.8 2129.5 2155.7 2126.5 2156.4 2123.5 2157.5 2121.5 2160.5 2118.2 2162.5 2117.1 2165.5 2116.2 2168.5 2116.1 2171.5 2116.7 2174.5 2118.3 2176.5 2120.3 2178 2122.5 2178.5 2123.5 2179.2 2126.5 2179.1 2129.5 2178.7 2131.5 2177.2 2134.5 2174.5 2137.3 2173.5 2138 2171.5 2139ZM2204.5 2141.6 2200.5 2142 2196.5 2140.9 2194.5 2139.7 2192.5 2137.8 2190.5 2134.5 2189.9 2131.5 2189.9 2129.5 2190.8 2125.5 2191.9 2123.5 2194.5 2120.9 2197.5 2119.2 2200.5 2118.5 2202.5 2118.5 2206.5 2119.5 2208.5 2120.6 2211.3 2123.5 2212.8 2126.5 2213.3 2128.5 2213.4 2131.5 2212.7 2134.5 2211.7 2136.5 2208.5 2139.9 2206.5 2141.1ZM2238.5 2141.7 2234.5 2142 2231.5 2141.3 2228.5 2139.6 2226.5 2137.6 2224.7 2134.5 2224.1 2131.5 2224.1 2129.5 2224.9 2125.5 2226.1 2123.5 2228 2121.5 2229.5 2120.2 2231.5 2119.2 2234.5 2118.5 2236.5 2118.5 2240.5 2119.4 2242.5 2120.5 2245.5 2123.5 2247 2126.5 2247.5 2128.5 2247.6 2131.5 2246.9 2134.5 2245.9 2136.5 2242.5 2140 2240.5 2141.2ZM2274.5 2143.7 2270.5 2144.5 2268.5 2144.4 2265.5 2143.7 2263.5 2142.6 2262.2 2141.5 2260.2 2139.5 2259.1 2137.5 2258.2 2133.5 2258.2 2131.5 2258.9 2128.5 2260.6 2125.5 2263.5 2122.8 2265.5 2121.7 2268.5 2121 2270.5 2121 2274.5 2121.7 2276.5 2122.9 2279.3 2125.5 2281.1 2128.5 2281.7 2131.5 2281.7 2133.5 2280.8 2137.5 2279.7 2139.5 2277.7 2141.5 2276.5 2142.6ZM2306.5 2151.6 2302.5 2151.7 2299.5 2151 2297.5 2149.9 2294.2 2146.5 2293.1 2144.5 2292.4 2141.5 2292.4 2138.5 2293.1 2135.5 2294.2 2133.5 2297.5 2130.2 2299.5 2129.1 2302.5 2128.3 2306.5 2128.5 2308.5 2129 2310.5 2130 2314 2133.5 2315.1 2135.5 2315.8 2138.5 2315.8 2141.5 2315.2 2144.5 2314.1 2146.5 2310.5 2150 2308.5 2151.1ZM2342.5 2153.6 2339.5 2154.2 2337.5 2154.2 2333.5 2153.3 2331.5 2152.1 2328.8 2149.5 2327.2 2146.5 2326.5 2143.5 2326.5 2141.5 2327.6 2137.5 2328.8 2135.5 2330.7 2133.5 2333.5 2131.6 2337.5 2130.7 2339.5 2130.7 2342.5 2131.4 2345.9 2133.5 2347.9 2135.5 2349.1 2137.5 2350 2141.5 2350 2143.5 2349.5 2146.5 2347.5 2149.9 2345.5 2151.8ZM2374.5 2156.5 2370.5 2156.6 2368.5 2156 2365.5 2154.5 2362.7 2151.5 2361.5 2149.5 2360.8 2146.5 2360.8 2143.5 2361.4 2140.5 2362.6 2138.5 2365.5 2135.3 2368.5 2133.8 2370.5 2133.3 2374.5 2133.3 2376.5 2133.8 2379.5 2135.3 2382.4 2138.5 2383.5 2140.5 2384.2 2143.5 2384.2 2146.5 2383.4 2149.5 2382.3 2151.5 2379.4 2154.5 2376.5 2156ZM2410.5 2158.5 2408.5 2159 2405.5 2159 2402.5 2158.5 2399.2 2156.5 2397.2 2154.5 2395.5 2151.5 2394.9 2148.5 2394.9 2146.5 2395.8 2142.5 2397 2140.5 2398.9 2138.5 2400.5 2137.2 2402.5 2136.2 2405.5 2135.6 2407.5 2135.6 2411.5 2136.5 2414.3 2138.5 2416.3 2140.5 2417.5 2142.5 2418.4 2146.5 2418.4 2148.5 2417.8 2151.5 2416 2154.5 2414.1 2156.5ZM2441.5 2161.6 2439.5 2161.5 2436.5 2160.8 2434.1 2159.5 2431 2156.5 2429.9 2154.5 2429.2 2151.5 2429.1 2148.5 2429.7 2145.5 2431.5 2142.5 2434.5 2139.8 2436.5 2138.7 2439.5 2138.1 2442.5 2138.1 2444.5 2138.6 2447.5 2140 2450.9 2143.5 2451.9 2145.5 2452.6 2148.5 2452.5 2151.5 2451.7 2154.5 2450.6 2156.5 2447.5 2159.6 2445.5 2160.7Z" fill="#ff0000" fill-rule="evenodd"/>
<g transform="matrix(2.4407 0 0 2.438 1385.22 1105.1)">
<path d="M80.5 445.5v5.3M151.5 445.5v5.3M221.5 445.5v5.3M291.5 445.5v5.3M362.5 445.5v5.3M432.5 445.5v5.3M63.5 64.5h-5.3M63.5 119.5h-5.3M63.5 173.5h-5.3M63.5 227.5h-5.3M63.5 282.5h-5.3M63.5 336.5h-5.3M63.5 391.5h-5.3M63.5 445.5h-5.3" stroke="#000" stroke-width="1.111" fill="none"/>
<path d="M63.5 60.5H450.5V445.5H63.5Z" stroke="#000" stroke-width="1.111" fill="none" stroke-linejoin="miter"/>
<text id="t-d-0" transform="translate(73.625 471) scale(1 1.053)" x="0.4" font-family="'DejaVu Sans','Liberation Sans',sans-serif" font-size="20.8333">0</text>
<text id="t-d-1" transform="translate(144.375 471) scale(1 1.053)" x="0.61" font-family="'DejaVu Sans','Liberation Sans',sans-serif" font-size="20.8333">5</text>
<text id="t-d-2" transform="translate(207.688 471) scale(1 1.053)" x="0.33 12.6" font-family="'DejaVu Sans','Liberation Sans',sans-serif" font-size="20.8333">10</text>
<text id="t-d-3" transform="translate(278.688 471) scale(1 1.053)" x="0.39 12.58" font-family="'DejaVu Sans','Liberation Sans',sans-serif" font-size="20.8333">15</text>
<text id="t-d-4" transform="translate(348.5 471) scale(1 1.053)" x="0.57 12.82" font-family="'DejaVu Sans','Liberation Sans',sans-serif" font-size="20.8333">20</text>
<text id="t-d-5" transform="translate(419.5 471) scale(1 1.053)" x="0.56 12.72" font-family="'DejaVu Sans','Liberation Sans',sans-serif" font-size="20.8333">25</text>
<text id="t-d-6" transform="translate(39.625 453) scale(1 1.053)" x="0.4" font-family="'DejaVu Sans','Liberation Sans',sans-serif" font-size="20.8333">0</text>
<text id="t-d-7" transform="translate(39.5 399) scale(1 1.053)" x="0.54" font-family="'DejaVu Sans','Liberation Sans',sans-serif" font-size="20.8333">2</text>
<text id="t-d-8" transform="translate(40 344) scale(1 1.053)" x="0.02" font-family="'DejaVu Sans','Liberation Sans',sans-serif" font-size="20.8333">4</text>
<text id="t-d-9" transform="translate(39.5 290) scale(1 1.053)" x="0.57" font-family="'DejaVu Sans','Liberation Sans',sans-serif" font-size="20.8333">6</text>
<text id="t-d-10" transform="translate(39.625 235) scale(1 1.053)" x="0.36" font-family="'DejaVu Sans','Liberation Sans',sans-serif" font-size="20.8333">8</text>
<text id="t-d-11" transform="translate(26.688 181) scale(1 1.053)" x="0.36 12.63" font-family="'DejaVu Sans','Liberation Sans',sans-serif" font-size="20.8333">10</text>
<text id="t-d-12" transform="translate(26.688 127) scale(1 1.053)" x="0.36 12.59" font-family="'DejaVu Sans','Liberation Sans',sans-serif" font-size="20.8333">12</text>
<text id="t-d-13" transform="translate(26.688 72) scale(1 1.053)" x="0.36 12.51" font-family="'DejaVu Sans','Liberation Sans',sans-serif" font-size="20.8333">14</text>
<text id="t-d-14" transform="translate(139 52) scale(1 1.015)" x="0.12 18.59 24.92 36.89 43.73 50.11 61.63 73.47 81.63 87.12 98.96 111.28 122.06 134.01 140.27 151.84 163.34 175.81 181.25 193.15 198.59 210.99 222.9" font-family="'DejaVu Sans','Liberation Sans',sans-serif" font-size="19.4444">% of variance explained</text>
</g>
</g>
<g font-family="'Liberation Serif','DejaVu Serif',serif" fill="#000">
<text x="11.5" y="99.6" font-size="59">(a)</text>
<text x="1346.5" y="99.6" font-size="59">(b)</text>
<text x="11.5" y="1263.5" font-size="59">(c)</text>
<text x="1346.5" y="1263.5" font-size="59">(d)</text>
<text x="655" y="2398.7" font-size="64.5" text-anchor="middle">PC number</text>
<text x="1999" y="2398.7" font-size="64.5" text-anchor="middle">PC number</text>
</g>
</g></svg>
</body>
</html>
